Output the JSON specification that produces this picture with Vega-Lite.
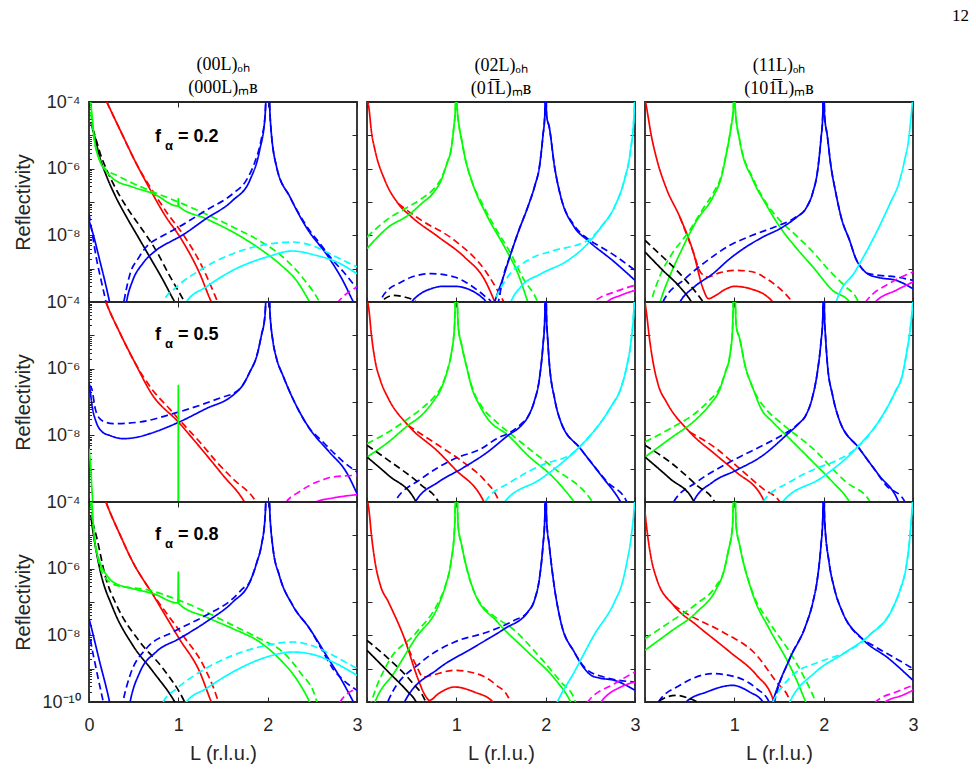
{
"$schema":"https://vega.github.io/schema/vega-lite/v6.json",
"padding":{"left":12,"top":7,"right":5,"bottom":5},
"title":{"text":"12","anchor":"end","fontSize":17,"font":"Liberation Serif","fontWeight":"normal","color":"#000000","offset":30,"dx":50},
"bounds":"flush",
"columns":3,
"spacing":{"row":0,"column":10},
"config":{
 "view":{"stroke":"#262626","strokeWidth":1.8},
 "font":"Liberation Sans",
 "axis":{"domain":false,"grid":false,"tickColor":"#262626","tickWidth":1,"labelColor":"#262626","labelFontSize":18,"labelFont":"Liberation Sans","titleColor":"#262626","titleFontSize":20,"titleFontWeight":"normal","titleFont":"Liberation Sans","labelOverlap":false,"labelFlush":false},
 "title":{"font":"Liberation Serif","fontWeight":"normal","color":"#000000"}
},
"datasets":{"d":[
{"p":11,"s":"ks","L":0.02,"v":-4.6},{"p":11,"s":"ks","L":0.06,"v":-5.0},{"p":11,"s":"ks","L":0.12,"v":-5.65},{"p":11,"s":"ks","L":0.2,"v":-6.25},{"p":11,"s":"ks","L":0.3,"v":-6.85},{"p":11,"s":"ks","L":0.42,"v":-7.45},{"p":11,"s":"ks","L":0.55,"v":-8.05},{"p":11,"s":"ks","L":0.68,"v":-8.65},{"p":11,"s":"ks","L":0.82,"v":-9.3},{"p":11,"s":"ks","L":0.96,"v":-10},{"p":11,"s":"ks","L":1.05,"v":-10.4},
{"p":11,"s":"kd","L":0.04,"v":-4.8},{"p":11,"s":"kd","L":0.06,"v":-4.95},{"p":11,"s":"kd","L":0.12,"v":-5.5},{"p":11,"s":"kd","L":0.2,"v":-6.05},{"p":11,"s":"kd","L":0.3,"v":-6.6},{"p":11,"s":"kd","L":0.42,"v":-7.15},{"p":11,"s":"kd","L":0.55,"v":-7.65},{"p":11,"s":"kd","L":0.75,"v":-8.45},{"p":11,"s":"kd","L":0.9,"v":-9.2},{"p":11,"s":"kd","L":1.07,"v":-10},{"p":11,"s":"kd","L":1.15,"v":-10.4},
{"p":11,"s":"rs","L":0.15,"v":-3.7},{"p":11,"s":"rs","L":0.2,"v":-4.0},{"p":11,"s":"rs","L":0.35,"v":-4.85},{"p":11,"s":"rs","L":0.53,"v":-5.85},{"p":11,"s":"rs","L":0.7,"v":-6.7},{"p":11,"s":"rs","L":0.85,"v":-7.4},{"p":11,"s":"rs","L":1.03,"v":-8.1},{"p":11,"s":"rs","L":1.24,"v":-9.15},{"p":11,"s":"rs","L":1.37,"v":-10},{"p":11,"s":"rs","L":1.45,"v":-10.4},
{"p":11,"s":"rd","L":0.15,"v":-3.7},{"p":11,"s":"rd","L":0.2,"v":-4.0},{"p":11,"s":"rd","L":0.35,"v":-4.85},{"p":11,"s":"rd","L":0.53,"v":-5.85},{"p":11,"s":"rd","L":0.72,"v":-6.7},{"p":11,"s":"rd","L":0.88,"v":-7.35},{"p":11,"s":"rd","L":1.06,"v":-8.0},{"p":11,"s":"rd","L":1.25,"v":-8.85},{"p":11,"s":"rd","L":1.44,"v":-10},{"p":11,"s":"rd","L":1.5,"v":-10.4},
{"p":11,"s":"gs","L":0.01,"v":-3.8},{"p":11,"s":"gs","L":0.03,"v":-4.3},{"p":11,"s":"gs","L":0.06,"v":-5.1},{"p":11,"s":"gs","L":0.12,"v":-5.75},{"p":11,"s":"gs","L":0.2,"v":-6.1},{"p":11,"s":"gs","L":0.27,"v":-6.3},{"p":11,"s":"gs","L":0.49,"v":-6.55},{"p":11,"s":"gs","L":0.72,"v":-6.75},{"p":11,"s":"gs","L":0.995,"v":-7.12},{"p":11,"s":"gs","L":1.0,"v":-6.9},{"p":11,"s":"gs","L":1.005,"v":-7.13},{"p":11,"s":"gs","L":1.31,"v":-7.5},{"p":11,"s":"gs","L":1.61,"v":-7.9},{"p":11,"s":"gs","L":1.91,"v":-8.4},{"p":11,"s":"gs","L":2.13,"v":-8.85},{"p":11,"s":"gs","L":2.32,"v":-9.35},{"p":11,"s":"gs","L":2.47,"v":-10},{"p":11,"s":"gs","L":2.55,"v":-10.4},
{"p":11,"s":"gd","L":0.02,"v":-4.3},{"p":11,"s":"gd","L":0.05,"v":-5.0},{"p":11,"s":"gd","L":0.1,"v":-5.6},{"p":11,"s":"gd","L":0.18,"v":-6.0},{"p":11,"s":"gd","L":0.31,"v":-6.2},{"p":11,"s":"gd","L":0.5,"v":-6.45},{"p":11,"s":"gd","L":0.72,"v":-6.7},{"p":11,"s":"gd","L":1.0,"v":-7.0},{"p":11,"s":"gd","L":1.3,"v":-7.35},{"p":11,"s":"gd","L":1.61,"v":-7.75},{"p":11,"s":"gd","L":1.9,"v":-8.15},{"p":11,"s":"gd","L":2.17,"v":-8.65},{"p":11,"s":"gd","L":2.4,"v":-9.3},{"p":11,"s":"gd","L":2.58,"v":-10},{"p":11,"s":"gd","L":2.65,"v":-10.4},
{"p":11,"s":"bs","L":0,"v":-7.55},{"p":11,"s":"bs","L":0.06,"v":-8.1},{"p":11,"s":"bs","L":0.12,"v":-8.75},{"p":11,"s":"bs","L":0.18,"v":-9.4},{"p":11,"s":"bs","L":0.23,"v":-10},{"p":11,"s":"bs","L":0.3,"v":-11},{"p":11,"s":"bs","L":0.37,"v":-11},{"p":11,"s":"bs","L":0.42,"v":-10},{"p":11,"s":"bs","L":0.49,"v":-9.35},{"p":11,"s":"bs","L":0.6,"v":-8.85},{"p":11,"s":"bs","L":0.75,"v":-8.45},{"p":11,"s":"bs","L":0.94,"v":-8.15},{"p":11,"s":"bs","L":1.01,"v":-8.05},{"p":11,"s":"bs","L":1.31,"v":-7.5},{"p":11,"s":"bs","L":1.61,"v":-6.95},{"p":11,"s":"bs","L":1.8,"v":-6.35},{"p":11,"s":"bs","L":1.91,"v":-5.45},{"p":11,"s":"bs","L":1.97,"v":-4.45},{"p":11,"s":"bs","L":2.0,"v":-3.0},{"p":11,"s":"bs","L":2.03,"v":-4.55},{"p":11,"s":"bs","L":2.1,"v":-5.95},{"p":11,"s":"bs","L":2.25,"v":-6.85},{"p":11,"s":"bs","L":2.43,"v":-7.75},{"p":11,"s":"bs","L":2.68,"v":-8.65},{"p":11,"s":"bs","L":2.84,"v":-9.35},{"p":11,"s":"bs","L":2.96,"v":-10},{"p":11,"s":"bs","L":3.0,"v":-10.2},
{"p":11,"s":"bd","L":0,"v":-7.35},{"p":11,"s":"bd","L":0.04,"v":-8.0},{"p":11,"s":"bd","L":0.08,"v":-8.65},{"p":11,"s":"bd","L":0.14,"v":-9.4},{"p":11,"s":"bd","L":0.19,"v":-10},{"p":11,"s":"bd","L":0.26,"v":-11},{"p":11,"s":"bd","L":0.33,"v":-11},{"p":11,"s":"bd","L":0.39,"v":-10},{"p":11,"s":"bd","L":0.46,"v":-9.15},{"p":11,"s":"bd","L":0.55,"v":-8.7},{"p":11,"s":"bd","L":0.64,"v":-8.35},{"p":11,"s":"bd","L":0.8,"v":-8.05},{"p":11,"s":"bd","L":0.94,"v":-7.85},{"p":11,"s":"bd","L":1.31,"v":-7.25},{"p":11,"s":"bd","L":1.61,"v":-6.75},{"p":11,"s":"bd","L":1.76,"v":-6.35},{"p":11,"s":"bd","L":1.85,"v":-5.85},{"p":11,"s":"bd","L":1.93,"v":-5.1},{"p":11,"s":"bd","L":1.97,"v":-4.45},{"p":11,"s":"bd","L":2.0,"v":-3.0},{"p":11,"s":"bd","L":2.03,"v":-4.55},{"p":11,"s":"bd","L":2.1,"v":-5.95},{"p":11,"s":"bd","L":2.25,"v":-6.85},{"p":11,"s":"bd","L":2.43,"v":-7.7},{"p":11,"s":"bd","L":2.6,"v":-8.3},{"p":11,"s":"bd","L":2.73,"v":-8.75},{"p":11,"s":"bd","L":2.85,"v":-9.1},{"p":11,"s":"bd","L":3.0,"v":-9.6},
{"p":11,"s":"cs","L":1.02,"v":-10.5},{"p":11,"s":"cs","L":1.09,"v":-10},{"p":11,"s":"cs","L":1.31,"v":-9.55},{"p":11,"s":"cs","L":1.61,"v":-9.05},{"p":11,"s":"cs","L":1.99,"v":-8.65},{"p":11,"s":"cs","L":2.28,"v":-8.47},{"p":11,"s":"cs","L":2.54,"v":-8.6},{"p":11,"s":"cs","L":2.73,"v":-8.75},{"p":11,"s":"cs","L":3.0,"v":-9.15},
{"p":11,"s":"cd","L":0.78,"v":-10.5},{"p":11,"s":"cd","L":0.83,"v":-10},{"p":11,"s":"cd","L":0.98,"v":-9.55},{"p":11,"s":"cd","L":1.24,"v":-9.05},{"p":11,"s":"cd","L":1.61,"v":-8.55},{"p":11,"s":"cd","L":1.99,"v":-8.27},{"p":11,"s":"cd","L":2.28,"v":-8.2},{"p":11,"s":"cd","L":2.54,"v":-8.35},{"p":11,"s":"cd","L":2.73,"v":-8.6},{"p":11,"s":"cd","L":3.0,"v":-8.95},
{"p":11,"s":"md","L":2.7,"v":-10.3},{"p":11,"s":"md","L":2.84,"v":-9.85},{"p":11,"s":"md","L":3.0,"v":-9.55},

{"p":12,"s":"rs","L":0.0,"v":-3.9},{"p":12,"s":"rs","L":0.02,"v":-4.15},{"p":12,"s":"rs","L":0.05,"v":-4.9},{"p":12,"s":"rs","L":0.09,"v":-5.45},{"p":12,"s":"rs","L":0.2,"v":-6.35},{"p":12,"s":"rs","L":0.35,"v":-7.05},{"p":12,"s":"rs","L":0.5,"v":-7.45},{"p":12,"s":"rs","L":0.8,"v":-8.05},{"p":12,"s":"rs","L":1.09,"v":-8.65},{"p":12,"s":"rs","L":1.32,"v":-9.35},{"p":12,"s":"rs","L":1.43,"v":-10},{"p":12,"s":"rs","L":1.5,"v":-10.5},
{"p":12,"s":"rd","L":0.35,"v":-7.05},{"p":12,"s":"rd","L":0.5,"v":-7.35},{"p":12,"s":"rd","L":0.61,"v":-7.55},{"p":12,"s":"rd","L":0.98,"v":-8.15},{"p":12,"s":"rd","L":1.32,"v":-9.05},{"p":12,"s":"rd","L":1.45,"v":-9.6},{"p":12,"s":"rd","L":1.55,"v":-10.1},{"p":12,"s":"rd","L":1.6,"v":-10.4},
{"p":12,"s":"gs","L":0,"v":-8.4},{"p":12,"s":"gs","L":0.24,"v":-7.75},{"p":12,"s":"gs","L":0.46,"v":-7.4},{"p":12,"s":"gs","L":0.61,"v":-7.05},{"p":12,"s":"gs","L":0.75,"v":-6.7},{"p":12,"s":"gs","L":0.83,"v":-6.35},{"p":12,"s":"gs","L":0.9,"v":-5.8},{"p":12,"s":"gs","L":0.94,"v":-5.45},{"p":12,"s":"gs","L":0.97,"v":-4.8},{"p":12,"s":"gs","L":0.99,"v":-4.15},{"p":12,"s":"gs","L":1.0,"v":-3.0},{"p":12,"s":"gs","L":1.01,"v":-4.2},{"p":12,"s":"gs","L":1.03,"v":-4.7},{"p":12,"s":"gs","L":1.06,"v":-5.15},{"p":12,"s":"gs","L":1.1,"v":-5.7},{"p":12,"s":"gs","L":1.17,"v":-6.35},{"p":12,"s":"gs","L":1.35,"v":-7.45},{"p":12,"s":"gs","L":1.54,"v":-8.35},{"p":12,"s":"gs","L":1.69,"v":-9.15},{"p":12,"s":"gs","L":1.8,"v":-10},{"p":12,"s":"gs","L":1.85,"v":-10.4},
{"p":12,"s":"gd","L":0,"v":-8.05},{"p":12,"s":"gd","L":0.24,"v":-7.5},{"p":12,"s":"gd","L":0.46,"v":-7.15},{"p":12,"s":"gd","L":0.61,"v":-6.9},{"p":12,"s":"gd","L":0.75,"v":-6.6},{"p":12,"s":"gd","L":0.83,"v":-6.3},{"p":12,"s":"gd","L":0.9,"v":-5.8},{"p":12,"s":"gd","L":0.94,"v":-5.45},{"p":12,"s":"gd","L":0.97,"v":-4.8},{"p":12,"s":"gd","L":0.99,"v":-4.15},{"p":12,"s":"gd","L":1.0,"v":-3.0},{"p":12,"s":"gd","L":1.01,"v":-4.2},{"p":12,"s":"gd","L":1.03,"v":-4.7},{"p":12,"s":"gd","L":1.06,"v":-5.15},{"p":12,"s":"gd","L":1.1,"v":-5.7},{"p":12,"s":"gd","L":1.17,"v":-6.35},{"p":12,"s":"gd","L":1.3,"v":-7.1},{"p":12,"s":"gd","L":1.43,"v":-7.75},{"p":12,"s":"gd","L":1.61,"v":-8.55},{"p":12,"s":"gd","L":1.75,"v":-9.3},{"p":12,"s":"gd","L":1.91,"v":-10},{"p":12,"s":"gd","L":1.95,"v":-10.3},
{"p":12,"s":"bs","L":0.4,"v":-10.5},{"p":12,"s":"bs","L":0.5,"v":-10},{"p":12,"s":"bs","L":0.6,"v":-9.75},{"p":12,"s":"bs","L":0.72,"v":-9.6},{"p":12,"s":"bs","L":0.85,"v":-9.53},{"p":12,"s":"bs","L":0.98,"v":-9.53},{"p":12,"s":"bs","L":1.1,"v":-9.58},{"p":12,"s":"bs","L":1.2,"v":-9.7},{"p":12,"s":"bs","L":1.28,"v":-9.85},{"p":12,"s":"bs","L":1.33,"v":-10},{"p":12,"s":"bs","L":1.38,"v":-10.5},{"p":12,"s":"bs","L":1.43,"v":-10},{"p":12,"s":"bs","L":1.52,"v":-9.3},{"p":12,"s":"bs","L":1.61,"v":-8.55},{"p":12,"s":"bs","L":1.7,"v":-7.85},{"p":12,"s":"bs","L":1.8,"v":-7.15},{"p":12,"s":"bs","L":1.88,"v":-6.5},{"p":12,"s":"bs","L":1.93,"v":-5.95},{"p":12,"s":"bs","L":1.97,"v":-5.0},{"p":12,"s":"bs","L":1.99,"v":-4.4},{"p":12,"s":"bs","L":2.0,"v":-3.0},{"p":12,"s":"bs","L":2.01,"v":-4.4},{"p":12,"s":"bs","L":2.04,"v":-4.75},{"p":12,"s":"bs","L":2.1,"v":-5.95},{"p":12,"s":"bs","L":2.17,"v":-6.85},{"p":12,"s":"bs","L":2.32,"v":-7.75},{"p":12,"s":"bs","L":2.47,"v":-8.15},{"p":12,"s":"bs","L":2.77,"v":-8.8},{"p":12,"s":"bs","L":3.0,"v":-9.35},
{"p":12,"s":"bd","L":0.1,"v":-10.5},{"p":12,"s":"bd","L":0.15,"v":-10},{"p":12,"s":"bd","L":0.25,"v":-9.6},{"p":12,"s":"bd","L":0.35,"v":-9.45},{"p":12,"s":"bd","L":0.5,"v":-9.25},{"p":12,"s":"bd","L":0.72,"v":-9.15},{"p":12,"s":"bd","L":0.98,"v":-9.25},{"p":12,"s":"bd","L":1.1,"v":-9.4},{"p":12,"s":"bd","L":1.24,"v":-9.65},{"p":12,"s":"bd","L":1.33,"v":-9.85},{"p":12,"s":"bd","L":1.39,"v":-10},{"p":12,"s":"bd","L":1.43,"v":-10.3},{"p":12,"s":"bd","L":1.47,"v":-10},{"p":12,"s":"bd","L":1.52,"v":-9.3},{"p":12,"s":"bd","L":1.61,"v":-8.55},{"p":12,"s":"bd","L":1.7,"v":-7.85},{"p":12,"s":"bd","L":1.8,"v":-7.15},{"p":12,"s":"bd","L":1.88,"v":-6.5},{"p":12,"s":"bd","L":1.93,"v":-5.95},{"p":12,"s":"bd","L":1.97,"v":-5.0},{"p":12,"s":"bd","L":1.99,"v":-4.4},{"p":12,"s":"bd","L":2.0,"v":-3.0},{"p":12,"s":"bd","L":2.01,"v":-4.4},{"p":12,"s":"bd","L":2.04,"v":-4.75},{"p":12,"s":"bd","L":2.1,"v":-5.95},{"p":12,"s":"bd","L":2.17,"v":-6.85},{"p":12,"s":"bd","L":2.32,"v":-7.7},{"p":12,"s":"bd","L":2.47,"v":-8.1},{"p":12,"s":"bd","L":2.62,"v":-8.35},{"p":12,"s":"bd","L":2.77,"v":-8.6},{"p":12,"s":"bd","L":3.0,"v":-9.05},
{"p":12,"s":"kd","L":0.12,"v":-10.2},{"p":12,"s":"kd","L":0.2,"v":-9.9},{"p":12,"s":"kd","L":0.3,"v":-9.8},{"p":12,"s":"kd","L":0.42,"v":-9.85},{"p":12,"s":"kd","L":0.55,"v":-10},{"p":12,"s":"kd","L":0.62,"v":-10.2},
{"p":12,"s":"cs","L":1.55,"v":-10.5},{"p":12,"s":"cs","L":1.61,"v":-10},{"p":12,"s":"cs","L":1.72,"v":-9.55},{"p":12,"s":"cs","L":1.95,"v":-9.15},{"p":12,"s":"cs","L":2.25,"v":-8.75},{"p":12,"s":"cs","L":2.47,"v":-8.25},{"p":12,"s":"cs","L":2.62,"v":-7.75},{"p":12,"s":"cs","L":2.77,"v":-7.15},{"p":12,"s":"cs","L":2.88,"v":-6.35},{"p":12,"s":"cs","L":2.95,"v":-5.45},{"p":12,"s":"cs","L":2.99,"v":-4.35},{"p":12,"s":"cs","L":3.0,"v":-3.5},
{"p":12,"s":"cd","L":1.38,"v":-10.5},{"p":12,"s":"cd","L":1.43,"v":-10},{"p":12,"s":"cd","L":1.55,"v":-9.35},{"p":12,"s":"cd","L":1.8,"v":-8.75},{"p":12,"s":"cd","L":2.1,"v":-8.45},{"p":12,"s":"cd","L":2.39,"v":-8.25},{"p":12,"s":"cd","L":2.5,"v":-8.1},{"p":12,"s":"cd","L":2.62,"v":-7.75},{"p":12,"s":"cd","L":2.77,"v":-7.15},{"p":12,"s":"cd","L":2.88,"v":-6.35},{"p":12,"s":"cd","L":2.95,"v":-5.45},{"p":12,"s":"cd","L":2.99,"v":-4.35},{"p":12,"s":"cd","L":3.0,"v":-3.5},
{"p":12,"s":"md","L":2.5,"v":-10.2},{"p":12,"s":"md","L":2.54,"v":-10},{"p":12,"s":"md","L":2.77,"v":-9.7},{"p":12,"s":"md","L":3.0,"v":-9.5},
{"p":12,"s":"ms","L":2.65,"v":-10.2},{"p":12,"s":"ms","L":2.69,"v":-10},{"p":12,"s":"ms","L":2.84,"v":-9.8},{"p":12,"s":"ms","L":3.0,"v":-9.65},

{"p":13,"s":"rs","L":0.0,"v":-3.9},{"p":13,"s":"rs","L":0.02,"v":-4.2},{"p":13,"s":"rs","L":0.07,"v":-5.0},{"p":13,"s":"rs","L":0.13,"v":-5.7},{"p":13,"s":"rs","L":0.24,"v":-6.6},{"p":13,"s":"rs","L":0.39,"v":-7.45},{"p":13,"s":"rs","L":0.54,"v":-8.5},{"p":13,"s":"rs","L":0.65,"v":-9.6},{"p":13,"s":"rs","L":0.71,"v":-9.9},{"p":13,"s":"rs","L":0.78,"v":-9.82},{"p":13,"s":"rs","L":0.9,"v":-9.62},{"p":13,"s":"rs","L":1.0,"v":-9.53},{"p":13,"s":"rs","L":1.2,"v":-9.62},{"p":13,"s":"rs","L":1.35,"v":-9.8},{"p":13,"s":"rs","L":1.43,"v":-10},{"p":13,"s":"rs","L":1.5,"v":-10.3},
{"p":13,"s":"rd","L":0.39,"v":-7.45},{"p":13,"s":"rd","L":0.54,"v":-8.5},{"p":13,"s":"rd","L":0.62,"v":-9.1},{"p":13,"s":"rd","L":0.7,"v":-9.25},{"p":13,"s":"rd","L":0.84,"v":-9.12},{"p":13,"s":"rd","L":1.02,"v":-9.05},{"p":13,"s":"rd","L":1.21,"v":-9.1},{"p":13,"s":"rd","L":1.36,"v":-9.3},{"p":13,"s":"rd","L":1.51,"v":-9.6},{"p":13,"s":"rd","L":1.62,"v":-9.9},{"p":13,"s":"rd","L":1.7,"v":-10.2},
{"p":13,"s":"gs","L":0.12,"v":-10.5},{"p":13,"s":"gs","L":0.17,"v":-10},{"p":13,"s":"gs","L":0.28,"v":-9.2},{"p":13,"s":"gs","L":0.39,"v":-8.55},{"p":13,"s":"gs","L":0.58,"v":-7.55},{"p":13,"s":"gs","L":0.76,"v":-6.85},{"p":13,"s":"gs","L":0.86,"v":-6.2},{"p":13,"s":"gs","L":0.91,"v":-5.55},{"p":13,"s":"gs","L":0.96,"v":-4.8},{"p":13,"s":"gs","L":0.99,"v":-4.15},{"p":13,"s":"gs","L":1.0,"v":-3.0},{"p":13,"s":"gs","L":1.01,"v":-4.2},{"p":13,"s":"gs","L":1.06,"v":-5.15},{"p":13,"s":"gs","L":1.21,"v":-6.35},{"p":13,"s":"gs","L":1.35,"v":-7.05},{"p":13,"s":"gs","L":1.51,"v":-7.75},{"p":13,"s":"gs","L":1.7,"v":-8.4},{"p":13,"s":"gs","L":1.88,"v":-8.95},{"p":13,"s":"gs","L":2.1,"v":-9.65},{"p":13,"s":"gs","L":2.29,"v":-10},{"p":13,"s":"gs","L":2.35,"v":-10.3},
{"p":13,"s":"gd","L":0.03,"v":-10.5},{"p":13,"s":"gd","L":0.07,"v":-10},{"p":13,"s":"gd","L":0.17,"v":-9.2},{"p":13,"s":"gd","L":0.28,"v":-8.65},{"p":13,"s":"gd","L":0.5,"v":-7.85},{"p":13,"s":"gd","L":0.65,"v":-7.2},{"p":13,"s":"gd","L":0.76,"v":-6.75},{"p":13,"s":"gd","L":0.86,"v":-6.15},{"p":13,"s":"gd","L":0.91,"v":-5.55},{"p":13,"s":"gd","L":0.96,"v":-4.8},{"p":13,"s":"gd","L":0.99,"v":-4.15},{"p":13,"s":"gd","L":1.0,"v":-3.0},{"p":13,"s":"gd","L":1.01,"v":-4.2},{"p":13,"s":"gd","L":1.06,"v":-5.15},{"p":13,"s":"gd","L":1.21,"v":-6.3},{"p":13,"s":"gd","L":1.35,"v":-7.0},{"p":13,"s":"gd","L":1.51,"v":-7.55},{"p":13,"s":"gd","L":1.69,"v":-8.0},{"p":13,"s":"gd","L":1.88,"v":-8.5},{"p":13,"s":"gd","L":2.06,"v":-9.05},{"p":13,"s":"gd","L":2.25,"v":-9.55},{"p":13,"s":"gd","L":2.36,"v":-9.85},{"p":13,"s":"gd","L":2.42,"v":-10.2},
{"p":13,"s":"bs","L":0.3,"v":-10.5},{"p":13,"s":"bs","L":0.39,"v":-10},{"p":13,"s":"bs","L":0.55,"v":-9.55},{"p":13,"s":"bs","L":0.76,"v":-9.15},{"p":13,"s":"bs","L":0.95,"v":-8.7},{"p":13,"s":"bs","L":1.13,"v":-8.35},{"p":13,"s":"bs","L":1.32,"v":-8.05},{"p":13,"s":"bs","L":1.51,"v":-7.8},{"p":13,"s":"bs","L":1.7,"v":-7.45},{"p":13,"s":"bs","L":1.8,"v":-7.2},{"p":13,"s":"bs","L":1.88,"v":-6.7},{"p":13,"s":"bs","L":1.93,"v":-6.1},{"p":13,"s":"bs","L":1.97,"v":-5.1},{"p":13,"s":"bs","L":1.99,"v":-4.4},{"p":13,"s":"bs","L":2.0,"v":-3.0},{"p":13,"s":"bs","L":2.01,"v":-4.4},{"p":13,"s":"bs","L":2.04,"v":-5.0},{"p":13,"s":"bs","L":2.08,"v":-5.9},{"p":13,"s":"bs","L":2.13,"v":-6.65},{"p":13,"s":"bs","L":2.2,"v":-7.5},{"p":13,"s":"bs","L":2.29,"v":-8.15},{"p":13,"s":"bs","L":2.36,"v":-8.7},{"p":13,"s":"bs","L":2.43,"v":-9.0},{"p":13,"s":"bs","L":2.5,"v":-9.17},{"p":13,"s":"bs","L":2.62,"v":-9.27},{"p":13,"s":"bs","L":2.81,"v":-9.35},{"p":13,"s":"bs","L":3.0,"v":-9.6},
{"p":13,"s":"bd","L":0.15,"v":-10.3},{"p":13,"s":"bd","L":0.2,"v":-10},{"p":13,"s":"bd","L":0.45,"v":-9.3},{"p":13,"s":"bd","L":0.7,"v":-8.75},{"p":13,"s":"bd","L":0.95,"v":-8.3},{"p":13,"s":"bd","L":1.2,"v":-8.0},{"p":13,"s":"bd","L":1.45,"v":-7.75},{"p":13,"s":"bd","L":1.69,"v":-7.45},{"p":13,"s":"bd","L":1.8,"v":-7.2},{"p":13,"s":"bd","L":1.88,"v":-6.7},{"p":13,"s":"bd","L":1.93,"v":-6.1},{"p":13,"s":"bd","L":1.97,"v":-5.1},{"p":13,"s":"bd","L":1.99,"v":-4.4},{"p":13,"s":"bd","L":2.0,"v":-3.0},{"p":13,"s":"bd","L":2.01,"v":-4.4},{"p":13,"s":"bd","L":2.04,"v":-5.0},{"p":13,"s":"bd","L":2.08,"v":-5.9},{"p":13,"s":"bd","L":2.13,"v":-6.65},{"p":13,"s":"bd","L":2.2,"v":-7.5},{"p":13,"s":"bd","L":2.29,"v":-8.15},{"p":13,"s":"bd","L":2.36,"v":-8.7},{"p":13,"s":"bd","L":2.43,"v":-9.0},{"p":13,"s":"bd","L":2.5,"v":-9.15},{"p":13,"s":"bd","L":2.62,"v":-9.2},{"p":13,"s":"bd","L":2.81,"v":-9.25},{"p":13,"s":"bd","L":3.0,"v":-9.35},
{"p":13,"s":"ks","L":0.0,"v":-8.5},{"p":13,"s":"ks","L":0.2,"v":-9.05},{"p":13,"s":"ks","L":0.39,"v":-9.55},{"p":13,"s":"ks","L":0.52,"v":-10},{"p":13,"s":"ks","L":0.58,"v":-10.3},
{"p":13,"s":"kd","L":0.0,"v":-8.15},{"p":13,"s":"kd","L":0.2,"v":-8.65},{"p":13,"s":"kd","L":0.39,"v":-9.15},{"p":13,"s":"kd","L":0.65,"v":-10},{"p":13,"s":"kd","L":0.7,"v":-10.2},
{"p":13,"s":"cs","L":2.1,"v":-10.5},{"p":13,"s":"cs","L":2.14,"v":-10},{"p":13,"s":"cs","L":2.36,"v":-9.05},{"p":13,"s":"cs","L":2.62,"v":-7.75},{"p":13,"s":"cs","L":2.75,"v":-7.0},{"p":13,"s":"cs","L":2.84,"v":-6.45},{"p":13,"s":"cs","L":2.91,"v":-5.7},{"p":13,"s":"cs","L":2.95,"v":-5.15},{"p":13,"s":"cs","L":2.98,"v":-4.4},{"p":13,"s":"cs","L":3.0,"v":-3.8},
{"p":13,"s":"ms","L":2.5,"v":-10.3},{"p":13,"s":"ms","L":2.58,"v":-10},{"p":13,"s":"ms","L":2.81,"v":-9.65},{"p":13,"s":"ms","L":3.0,"v":-9.4},
{"p":13,"s":"md","L":2.4,"v":-10.3},{"p":13,"s":"md","L":2.47,"v":-10},{"p":13,"s":"md","L":2.73,"v":-9.45},{"p":13,"s":"md","L":3.0,"v":-9.1},

{"p":21,"s":"rs","L":0.15,"v":-3.7},{"p":21,"s":"rs","L":0.19,"v":-4.0},{"p":21,"s":"rs","L":0.35,"v":-4.95},{"p":21,"s":"rs","L":0.51,"v":-5.8},{"p":21,"s":"rs","L":0.7,"v":-6.75},{"p":21,"s":"rs","L":1.0,"v":-7.6},{"p":21,"s":"rs","L":1.24,"v":-8.35},{"p":21,"s":"rs","L":1.5,"v":-9.2},{"p":21,"s":"rs","L":1.74,"v":-10},{"p":21,"s":"rs","L":1.8,"v":-10.3},
{"p":21,"s":"rd","L":0.15,"v":-3.7},{"p":21,"s":"rd","L":0.19,"v":-4.0},{"p":21,"s":"rd","L":0.35,"v":-4.95},{"p":21,"s":"rd","L":0.51,"v":-5.8},{"p":21,"s":"rd","L":0.7,"v":-6.6},{"p":21,"s":"rd","L":0.9,"v":-7.2},{"p":21,"s":"rd","L":1.05,"v":-7.65},{"p":21,"s":"rd","L":1.24,"v":-8.2},{"p":21,"s":"rd","L":1.43,"v":-8.8},{"p":21,"s":"rd","L":1.61,"v":-9.3},{"p":21,"s":"rd","L":1.87,"v":-10},{"p":21,"s":"rd","L":1.93,"v":-10.3},
{"p":21,"s":"bs","L":0.0,"v":-6.4},{"p":21,"s":"bs","L":0.01,"v":-6.6},{"p":21,"s":"bs","L":0.04,"v":-7.2},{"p":21,"s":"bs","L":0.08,"v":-7.6},{"p":21,"s":"bs","L":0.15,"v":-7.9},{"p":21,"s":"bs","L":0.23,"v":-8.0},{"p":21,"s":"bs","L":0.38,"v":-8.1},{"p":21,"s":"bs","L":0.55,"v":-8.05},{"p":21,"s":"bs","L":0.68,"v":-7.95},{"p":21,"s":"bs","L":1.01,"v":-7.6},{"p":21,"s":"bs","L":1.31,"v":-7.2},{"p":21,"s":"bs","L":1.61,"v":-6.8},{"p":21,"s":"bs","L":1.72,"v":-6.5},{"p":21,"s":"bs","L":1.8,"v":-6.1},{"p":21,"s":"bs","L":1.88,"v":-5.6},{"p":21,"s":"bs","L":1.93,"v":-5.0},{"p":21,"s":"bs","L":1.97,"v":-4.4},{"p":21,"s":"bs","L":2.0,"v":-3.0},{"p":21,"s":"bs","L":2.03,"v":-4.5},{"p":21,"s":"bs","L":2.06,"v":-5.2},{"p":21,"s":"bs","L":2.1,"v":-5.7},{"p":21,"s":"bs","L":2.17,"v":-6.2},{"p":21,"s":"bs","L":2.3,"v":-7.0},{"p":21,"s":"bs","L":2.47,"v":-7.8},{"p":21,"s":"bs","L":2.69,"v":-8.5},{"p":21,"s":"bs","L":2.88,"v":-9.1},{"p":21,"s":"bs","L":3.0,"v":-9.75},
{"p":21,"s":"bd","L":0.0,"v":-6.5},{"p":21,"s":"bd","L":0.03,"v":-6.6},{"p":21,"s":"bd","L":0.07,"v":-7.2},{"p":21,"s":"bd","L":0.12,"v":-7.5},{"p":21,"s":"bd","L":0.2,"v":-7.62},{"p":21,"s":"bd","L":0.27,"v":-7.65},{"p":21,"s":"bd","L":0.57,"v":-7.6},{"p":21,"s":"bd","L":0.94,"v":-7.35},{"p":21,"s":"bd","L":1.24,"v":-7.1},{"p":21,"s":"bd","L":1.5,"v":-6.85},{"p":21,"s":"bd","L":1.61,"v":-6.75},{"p":21,"s":"bd","L":1.72,"v":-6.5},{"p":21,"s":"bd","L":1.8,"v":-6.1},{"p":21,"s":"bd","L":1.88,"v":-5.6},{"p":21,"s":"bd","L":1.93,"v":-5.0},{"p":21,"s":"bd","L":1.97,"v":-4.4},{"p":21,"s":"bd","L":2.0,"v":-3.0},{"p":21,"s":"bd","L":2.03,"v":-4.5},{"p":21,"s":"bd","L":2.06,"v":-5.2},{"p":21,"s":"bd","L":2.1,"v":-5.7},{"p":21,"s":"bd","L":2.17,"v":-6.2},{"p":21,"s":"bd","L":2.3,"v":-7.0},{"p":21,"s":"bd","L":2.47,"v":-7.8},{"p":21,"s":"bd","L":2.6,"v":-8.15},{"p":21,"s":"bd","L":2.73,"v":-8.5},{"p":21,"s":"bd","L":2.85,"v":-8.8},{"p":21,"s":"bd","L":3.0,"v":-9.1},
{"p":21,"s":"gs","L":0.998,"v":-11},{"p":21,"s":"gs","L":1.0,"v":-6.5},{"p":21,"s":"gs","L":1.002,"v":-11},
{"p":21,"s":"gx","L":0.0,"v":-8.4},{"p":21,"s":"gx","L":0.02,"v":-9.0},{"p":21,"s":"gx","L":0.03,"v":-9.5},{"p":21,"s":"gx","L":0.05,"v":-10.3},
{"p":21,"s":"md","L":2.15,"v":-10.3},{"p":21,"s":"md","L":2.21,"v":-10},{"p":21,"s":"md","L":2.35,"v":-9.7},{"p":21,"s":"md","L":2.47,"v":-9.5},{"p":21,"s":"md","L":2.6,"v":-9.35},{"p":21,"s":"md","L":2.73,"v":-9.25},{"p":21,"s":"md","L":3.0,"v":-9.2},
{"p":21,"s":"ms","L":2.45,"v":-10.2},{"p":21,"s":"ms","L":2.54,"v":-10},{"p":21,"s":"ms","L":2.73,"v":-9.88},{"p":21,"s":"ms","L":3.0,"v":-9.78},

{"p":22,"s":"rs","L":0.0,"v":-3.9},{"p":22,"s":"rs","L":0.02,"v":-4.2},{"p":22,"s":"rs","L":0.05,"v":-5.0},{"p":22,"s":"rs","L":0.09,"v":-5.75},{"p":22,"s":"rs","L":0.15,"v":-6.35},{"p":22,"s":"rs","L":0.24,"v":-6.9},{"p":22,"s":"rs","L":0.46,"v":-7.7},{"p":22,"s":"rs","L":0.8,"v":-8.5},{"p":22,"s":"rs","L":0.98,"v":-9.0},{"p":22,"s":"rs","L":1.3,"v":-9.95},{"p":22,"s":"rs","L":1.36,"v":-10.3},
{"p":22,"s":"rd","L":0.46,"v":-7.7},{"p":22,"s":"rd","L":0.6,"v":-7.95},{"p":22,"s":"rd","L":0.8,"v":-8.3},{"p":22,"s":"rd","L":1.1,"v":-8.85},{"p":22,"s":"rd","L":1.3,"v":-9.3},{"p":22,"s":"rd","L":1.48,"v":-10},{"p":22,"s":"rd","L":1.52,"v":-10.3},
{"p":22,"s":"gs","L":0,"v":-8.65},{"p":22,"s":"gs","L":0.24,"v":-8.2},{"p":22,"s":"gs","L":0.46,"v":-7.7},{"p":22,"s":"gs","L":0.61,"v":-7.4},{"p":22,"s":"gs","L":0.75,"v":-6.95},{"p":22,"s":"gs","L":0.83,"v":-6.6},{"p":22,"s":"gs","L":0.9,"v":-6.05},{"p":22,"s":"gs","L":0.94,"v":-5.6},{"p":22,"s":"gs","L":0.98,"v":-4.7},{"p":22,"s":"gs","L":1.0,"v":-3.0},{"p":22,"s":"gs","L":1.02,"v":-4.7},{"p":22,"s":"gs","L":1.06,"v":-5.3},{"p":22,"s":"gs","L":1.12,"v":-6.0},{"p":22,"s":"gs","L":1.17,"v":-6.55},{"p":22,"s":"gs","L":1.25,"v":-7.05},{"p":22,"s":"gs","L":1.35,"v":-7.5},{"p":22,"s":"gs","L":1.58,"v":-8.0},{"p":22,"s":"gs","L":1.8,"v":-8.6},{"p":22,"s":"gs","L":2.1,"v":-9.3},{"p":22,"s":"gs","L":2.32,"v":-10},{"p":22,"s":"gs","L":2.4,"v":-10.3},
{"p":22,"s":"gd","L":0,"v":-8.25},{"p":22,"s":"gd","L":0.24,"v":-7.9},{"p":22,"s":"gd","L":0.46,"v":-7.5},{"p":22,"s":"gd","L":0.61,"v":-7.2},{"p":22,"s":"gd","L":0.75,"v":-6.85},{"p":22,"s":"gd","L":0.83,"v":-6.55},{"p":22,"s":"gd","L":0.9,"v":-6.05},{"p":22,"s":"gd","L":0.94,"v":-5.6},{"p":22,"s":"gd","L":0.98,"v":-4.7},{"p":22,"s":"gd","L":1.0,"v":-3.0},{"p":22,"s":"gd","L":1.02,"v":-4.7},{"p":22,"s":"gd","L":1.06,"v":-5.3},{"p":22,"s":"gd","L":1.12,"v":-6.0},{"p":22,"s":"gd","L":1.17,"v":-6.5},{"p":22,"s":"gd","L":1.3,"v":-7.2},{"p":22,"s":"gd","L":1.43,"v":-7.55},{"p":22,"s":"gd","L":1.72,"v":-8.2},{"p":22,"s":"gd","L":2.1,"v":-9.0},{"p":22,"s":"gd","L":2.47,"v":-9.8},{"p":22,"s":"gd","L":2.55,"v":-10.1},
{"p":22,"s":"bs","L":0.48,"v":-10.5},{"p":22,"s":"bs","L":0.54,"v":-10},{"p":22,"s":"bs","L":0.8,"v":-9.4},{"p":22,"s":"bs","L":1.06,"v":-9.0},{"p":22,"s":"bs","L":1.35,"v":-8.5},{"p":22,"s":"bs","L":1.58,"v":-8.0},{"p":22,"s":"bs","L":1.73,"v":-7.7},{"p":22,"s":"bs","L":1.8,"v":-7.45},{"p":22,"s":"bs","L":1.87,"v":-7.0},{"p":22,"s":"bs","L":1.93,"v":-6.3},{"p":22,"s":"bs","L":1.97,"v":-5.3},{"p":22,"s":"bs","L":1.99,"v":-4.5},{"p":22,"s":"bs","L":2.0,"v":-3.0},{"p":22,"s":"bs","L":2.01,"v":-4.5},{"p":22,"s":"bs","L":2.02,"v":-5.0},{"p":22,"s":"bs","L":2.04,"v":-5.8},{"p":22,"s":"bs","L":2.1,"v":-6.9},{"p":22,"s":"bs","L":2.17,"v":-7.6},{"p":22,"s":"bs","L":2.39,"v":-8.4},{"p":22,"s":"bs","L":2.62,"v":-9.2},{"p":22,"s":"bs","L":2.84,"v":-10},{"p":22,"s":"bs","L":2.9,"v":-10.3},
{"p":22,"s":"bd","L":0.26,"v":-10.5},{"p":22,"s":"bd","L":0.31,"v":-10},{"p":22,"s":"bd","L":0.61,"v":-9.3},{"p":22,"s":"bd","L":0.98,"v":-8.7},{"p":22,"s":"bd","L":1.28,"v":-8.4},{"p":22,"s":"bd","L":1.45,"v":-8.1},{"p":22,"s":"bd","L":1.61,"v":-7.9},{"p":22,"s":"bd","L":1.73,"v":-7.65},{"p":22,"s":"bd","L":1.8,"v":-7.45},{"p":22,"s":"bd","L":1.87,"v":-7.0},{"p":22,"s":"bd","L":1.93,"v":-6.3},{"p":22,"s":"bd","L":1.97,"v":-5.3},{"p":22,"s":"bd","L":1.99,"v":-4.5},{"p":22,"s":"bd","L":2.0,"v":-3.0},{"p":22,"s":"bd","L":2.01,"v":-4.5},{"p":22,"s":"bd","L":2.02,"v":-5.0},{"p":22,"s":"bd","L":2.04,"v":-5.8},{"p":22,"s":"bd","L":2.1,"v":-6.9},{"p":22,"s":"bd","L":2.17,"v":-7.6},{"p":22,"s":"bd","L":2.39,"v":-8.4},{"p":22,"s":"bd","L":2.55,"v":-8.95},{"p":22,"s":"bd","L":2.69,"v":-9.4},{"p":22,"s":"bd","L":2.9,"v":-9.95},{"p":22,"s":"bd","L":2.95,"v":-10.3},
{"p":22,"s":"ks","L":0,"v":-8.65},{"p":22,"s":"ks","L":0.24,"v":-9.2},{"p":22,"s":"ks","L":0.54,"v":-9.95},{"p":22,"s":"ks","L":0.6,"v":-10.3},
{"p":22,"s":"kd","L":0,"v":-8.3},{"p":22,"s":"kd","L":0.24,"v":-8.75},{"p":22,"s":"kd","L":0.61,"v":-9.5},{"p":22,"s":"kd","L":0.8,"v":-10},{"p":22,"s":"kd","L":0.85,"v":-10.3},
{"p":22,"s":"cs","L":1.48,"v":-10.3},{"p":22,"s":"cs","L":1.54,"v":-10},{"p":22,"s":"cs","L":1.95,"v":-9.3},{"p":22,"s":"cs","L":2.32,"v":-8.5},{"p":22,"s":"cs","L":2.5,"v":-8.0},{"p":22,"s":"cs","L":2.62,"v":-7.6},{"p":22,"s":"cs","L":2.74,"v":-7.1},{"p":22,"s":"cs","L":2.84,"v":-6.6},{"p":22,"s":"cs","L":2.91,"v":-5.9},{"p":22,"s":"cs","L":2.95,"v":-5.3},{"p":22,"s":"cs","L":2.99,"v":-4.1},{"p":22,"s":"cs","L":3.0,"v":-3.5},
{"p":22,"s":"cd","L":1.27,"v":-10.3},{"p":22,"s":"cd","L":1.32,"v":-10},{"p":22,"s":"cd","L":1.61,"v":-9.4},{"p":22,"s":"cd","L":1.95,"v":-8.9},{"p":22,"s":"cd","L":2.32,"v":-8.5},{"p":22,"s":"cd","L":2.5,"v":-8.0},{"p":22,"s":"cd","L":2.62,"v":-7.6},{"p":22,"s":"cd","L":2.74,"v":-7.1},{"p":22,"s":"cd","L":2.84,"v":-6.6},{"p":22,"s":"cd","L":2.91,"v":-5.9},{"p":22,"s":"cd","L":2.95,"v":-5.3},{"p":22,"s":"cd","L":2.99,"v":-4.1},{"p":22,"s":"cd","L":3.0,"v":-3.5},

{"p":23,"s":"rs","L":0.0,"v":-4.0},{"p":23,"s":"rs","L":0.02,"v":-4.4},{"p":23,"s":"rs","L":0.05,"v":-5.1},{"p":23,"s":"rs","L":0.09,"v":-5.8},{"p":23,"s":"rs","L":0.15,"v":-6.5},{"p":23,"s":"rs","L":0.24,"v":-7.0},{"p":23,"s":"rs","L":0.5,"v":-7.9},{"p":23,"s":"rs","L":0.8,"v":-8.6},{"p":23,"s":"rs","L":1.02,"v":-9.1},{"p":23,"s":"rs","L":1.32,"v":-9.9},{"p":23,"s":"rs","L":1.36,"v":-10.2},
{"p":23,"s":"rd","L":0.5,"v":-7.9},{"p":23,"s":"rd","L":0.8,"v":-8.4},{"p":23,"s":"rd","L":1.06,"v":-9.0},{"p":23,"s":"rd","L":1.32,"v":-9.6},{"p":23,"s":"rd","L":1.51,"v":-10},{"p":23,"s":"rd","L":1.56,"v":-10.3},
{"p":23,"s":"gs","L":0,"v":-8.65},{"p":23,"s":"gs","L":0.28,"v":-8.1},{"p":23,"s":"gs","L":0.58,"v":-7.5},{"p":23,"s":"gs","L":0.72,"v":-7.1},{"p":23,"s":"gs","L":0.84,"v":-6.6},{"p":23,"s":"gs","L":0.9,"v":-6.1},{"p":23,"s":"gs","L":0.95,"v":-5.6},{"p":23,"s":"gs","L":0.98,"v":-4.8},{"p":23,"s":"gs","L":1.0,"v":-3.0},{"p":23,"s":"gs","L":1.02,"v":-4.7},{"p":23,"s":"gs","L":1.06,"v":-5.1},{"p":23,"s":"gs","L":1.12,"v":-5.9},{"p":23,"s":"gs","L":1.21,"v":-6.6},{"p":23,"s":"gs","L":1.3,"v":-7.2},{"p":23,"s":"gs","L":1.43,"v":-7.6},{"p":23,"s":"gs","L":1.6,"v":-8.05},{"p":23,"s":"gs","L":1.88,"v":-8.8},{"p":23,"s":"gs","L":2.1,"v":-9.4},{"p":23,"s":"gs","L":2.29,"v":-10},{"p":23,"s":"gs","L":2.35,"v":-10.3},
{"p":23,"s":"gd","L":0,"v":-8.2},{"p":23,"s":"gd","L":0.28,"v":-7.8},{"p":23,"s":"gd","L":0.58,"v":-7.3},{"p":23,"s":"gd","L":0.72,"v":-6.95},{"p":23,"s":"gd","L":0.84,"v":-6.55},{"p":23,"s":"gd","L":0.9,"v":-6.1},{"p":23,"s":"gd","L":0.95,"v":-5.6},{"p":23,"s":"gd","L":0.98,"v":-4.8},{"p":23,"s":"gd","L":1.0,"v":-3.0},{"p":23,"s":"gd","L":1.02,"v":-4.7},{"p":23,"s":"gd","L":1.06,"v":-5.1},{"p":23,"s":"gd","L":1.12,"v":-5.9},{"p":23,"s":"gd","L":1.21,"v":-6.6},{"p":23,"s":"gd","L":1.35,"v":-7.2},{"p":23,"s":"gd","L":1.51,"v":-7.6},{"p":23,"s":"gd","L":1.88,"v":-8.4},{"p":23,"s":"gd","L":2.25,"v":-9.4},{"p":23,"s":"gd","L":2.51,"v":-9.95},{"p":23,"s":"gd","L":2.55,"v":-10.3},
{"p":23,"s":"bs","L":0.5,"v":-10.3},{"p":23,"s":"bs","L":0.54,"v":-10},{"p":23,"s":"bs","L":0.76,"v":-9.4},{"p":23,"s":"bs","L":1.02,"v":-9.05},{"p":23,"s":"bs","L":1.32,"v":-8.6},{"p":23,"s":"bs","L":1.58,"v":-8.0},{"p":23,"s":"bs","L":1.72,"v":-7.65},{"p":23,"s":"bs","L":1.8,"v":-7.4},{"p":23,"s":"bs","L":1.87,"v":-6.9},{"p":23,"s":"bs","L":1.93,"v":-6.1},{"p":23,"s":"bs","L":1.97,"v":-5.2},{"p":23,"s":"bs","L":1.99,"v":-4.5},{"p":23,"s":"bs","L":2.0,"v":-3.0},{"p":23,"s":"bs","L":2.01,"v":-4.5},{"p":23,"s":"bs","L":2.02,"v":-5.0},{"p":23,"s":"bs","L":2.04,"v":-5.8},{"p":23,"s":"bs","L":2.1,"v":-6.8},{"p":23,"s":"bs","L":2.17,"v":-7.5},{"p":23,"s":"bs","L":2.4,"v":-8.4},{"p":23,"s":"bs","L":2.62,"v":-9.2},{"p":23,"s":"bs","L":2.83,"v":-9.95},{"p":23,"s":"bs","L":2.88,"v":-10.3},
{"p":23,"s":"bd","L":0.28,"v":-10.3},{"p":23,"s":"bd","L":0.32,"v":-10},{"p":23,"s":"bd","L":0.58,"v":-9.4},{"p":23,"s":"bd","L":0.95,"v":-8.8},{"p":23,"s":"bd","L":1.32,"v":-8.3},{"p":23,"s":"bd","L":1.5,"v":-8.05},{"p":23,"s":"bd","L":1.65,"v":-7.8},{"p":23,"s":"bd","L":1.72,"v":-7.65},{"p":23,"s":"bd","L":1.8,"v":-7.4},{"p":23,"s":"bd","L":1.87,"v":-6.9},{"p":23,"s":"bd","L":1.93,"v":-6.1},{"p":23,"s":"bd","L":1.97,"v":-5.2},{"p":23,"s":"bd","L":1.99,"v":-4.5},{"p":23,"s":"bd","L":2.0,"v":-3.0},{"p":23,"s":"bd","L":2.01,"v":-4.5},{"p":23,"s":"bd","L":2.02,"v":-5.0},{"p":23,"s":"bd","L":2.04,"v":-5.8},{"p":23,"s":"bd","L":2.1,"v":-6.8},{"p":23,"s":"bd","L":2.17,"v":-7.5},{"p":23,"s":"bd","L":2.4,"v":-8.4},{"p":23,"s":"bd","L":2.55,"v":-8.95},{"p":23,"s":"bd","L":2.7,"v":-9.5},{"p":23,"s":"bd","L":2.9,"v":-9.95},{"p":23,"s":"bd","L":2.95,"v":-10.3},
{"p":23,"s":"ks","L":0,"v":-8.65},{"p":23,"s":"ks","L":0.28,"v":-9.3},{"p":23,"s":"ks","L":0.54,"v":-9.95},{"p":23,"s":"ks","L":0.6,"v":-10.3},
{"p":23,"s":"kd","L":0,"v":-8.3},{"p":23,"s":"kd","L":0.28,"v":-8.8},{"p":23,"s":"kd","L":0.58,"v":-9.5},{"p":23,"s":"kd","L":0.78,"v":-10},{"p":23,"s":"kd","L":0.83,"v":-10.3},
{"p":23,"s":"cs","L":1.5,"v":-10.3},{"p":23,"s":"cs","L":1.54,"v":-10},{"p":23,"s":"cs","L":1.99,"v":-9.25},{"p":23,"s":"cs","L":2.36,"v":-8.4},{"p":23,"s":"cs","L":2.66,"v":-7.4},{"p":23,"s":"cs","L":2.8,"v":-6.7},{"p":23,"s":"cs","L":2.88,"v":-6.2},{"p":23,"s":"cs","L":2.93,"v":-5.5},{"p":23,"s":"cs","L":2.97,"v":-4.8},{"p":23,"s":"cs","L":3.0,"v":-4.0},
{"p":23,"s":"cd","L":1.28,"v":-10.3},{"p":23,"s":"cd","L":1.32,"v":-10},{"p":23,"s":"cd","L":1.62,"v":-9.4},{"p":23,"s":"cd","L":1.91,"v":-9.0},{"p":23,"s":"cd","L":2.15,"v":-8.75},{"p":23,"s":"cd","L":2.36,"v":-8.4},{"p":23,"s":"cd","L":2.66,"v":-7.4},{"p":23,"s":"cd","L":2.8,"v":-6.7},{"p":23,"s":"cd","L":2.88,"v":-6.2},{"p":23,"s":"cd","L":2.93,"v":-5.5},{"p":23,"s":"cd","L":2.97,"v":-4.8},{"p":23,"s":"cd","L":3.0,"v":-4.0},

{"p":31,"s":"ks","L":0.02,"v":-4.4},{"p":31,"s":"ks","L":0.04,"v":-4.8},{"p":31,"s":"ks","L":0.12,"v":-6.0},{"p":31,"s":"ks","L":0.27,"v":-7.2},{"p":31,"s":"ks","L":0.49,"v":-8.3},{"p":31,"s":"ks","L":0.72,"v":-9.1},{"p":31,"s":"ks","L":0.96,"v":-10},{"p":31,"s":"ks","L":1.02,"v":-10.3},
{"p":31,"s":"kd","L":0.04,"v":-4.6},{"p":31,"s":"kd","L":0.08,"v":-5.0},{"p":31,"s":"kd","L":0.19,"v":-6.3},{"p":31,"s":"kd","L":0.31,"v":-7.1},{"p":31,"s":"kd","L":0.57,"v":-8.2},{"p":31,"s":"kd","L":0.83,"v":-9.0},{"p":31,"s":"kd","L":1.07,"v":-10},{"p":31,"s":"kd","L":1.12,"v":-10.3},
{"p":31,"s":"rs","L":0.15,"v":-3.7},{"p":31,"s":"rs","L":0.19,"v":-4.0},{"p":31,"s":"rs","L":0.35,"v":-5.0},{"p":31,"s":"rs","L":0.49,"v":-5.8},{"p":31,"s":"rs","L":0.72,"v":-6.8},{"p":31,"s":"rs","L":1.01,"v":-8.1},{"p":31,"s":"rs","L":1.24,"v":-9.1},{"p":31,"s":"rs","L":1.37,"v":-10},{"p":31,"s":"rs","L":1.42,"v":-10.3},
{"p":31,"s":"rd","L":0.15,"v":-3.7},{"p":31,"s":"rd","L":0.19,"v":-4.0},{"p":31,"s":"rd","L":0.35,"v":-5.0},{"p":31,"s":"rd","L":0.49,"v":-5.8},{"p":31,"s":"rd","L":0.6,"v":-6.3},{"p":31,"s":"rd","L":0.75,"v":-6.9},{"p":31,"s":"rd","L":1.05,"v":-8.0},{"p":31,"s":"rd","L":1.28,"v":-8.9},{"p":31,"s":"rd","L":1.43,"v":-9.85},{"p":31,"s":"rd","L":1.47,"v":-10.2},
{"p":31,"s":"gs","L":0.01,"v":-3.8},{"p":31,"s":"gs","L":0.03,"v":-4.0},{"p":31,"s":"gs","L":0.06,"v":-5.1},{"p":31,"s":"gs","L":0.12,"v":-5.8},{"p":31,"s":"gs","L":0.2,"v":-6.2},{"p":31,"s":"gs","L":0.27,"v":-6.4},{"p":31,"s":"gs","L":0.49,"v":-6.6},{"p":31,"s":"gs","L":0.72,"v":-6.75},{"p":31,"s":"gs","L":0.995,"v":-7.03},{"p":31,"s":"gs","L":1.0,"v":-6.1},{"p":31,"s":"gs","L":1.005,"v":-7.05},{"p":31,"s":"gs","L":1.31,"v":-7.45},{"p":31,"s":"gs","L":1.61,"v":-7.8},{"p":31,"s":"gs","L":1.91,"v":-8.2},{"p":31,"s":"gs","L":2.13,"v":-8.7},{"p":31,"s":"gs","L":2.32,"v":-9.3},{"p":31,"s":"gs","L":2.47,"v":-10},{"p":31,"s":"gs","L":2.52,"v":-10.3},
{"p":31,"s":"gd","L":0.02,"v":-4.0},{"p":31,"s":"gd","L":0.03,"v":-4.3},{"p":31,"s":"gd","L":0.06,"v":-5.0},{"p":31,"s":"gd","L":0.16,"v":-6.2},{"p":31,"s":"gd","L":0.31,"v":-6.5},{"p":31,"s":"gd","L":0.68,"v":-6.65},{"p":31,"s":"gd","L":1.01,"v":-6.95},{"p":31,"s":"gd","L":1.31,"v":-7.3},{"p":31,"s":"gd","L":1.61,"v":-7.7},{"p":31,"s":"gd","L":1.91,"v":-8.1},{"p":31,"s":"gd","L":2.17,"v":-8.5},{"p":31,"s":"gd","L":2.36,"v":-9.1},{"p":31,"s":"gd","L":2.54,"v":-9.9},{"p":31,"s":"gd","L":2.58,"v":-10.3},
{"p":31,"s":"bs","L":0.0,"v":-7.5},{"p":31,"s":"bs","L":0.01,"v":-7.6},{"p":31,"s":"bs","L":0.12,"v":-8.8},{"p":31,"s":"bs","L":0.23,"v":-10},{"p":31,"s":"bs","L":0.3,"v":-11},{"p":31,"s":"bs","L":0.4,"v":-11},{"p":31,"s":"bs","L":0.46,"v":-10},{"p":31,"s":"bs","L":0.57,"v":-9.1},{"p":31,"s":"bs","L":0.75,"v":-8.5},{"p":31,"s":"bs","L":1.01,"v":-8.1},{"p":31,"s":"bs","L":1.31,"v":-7.6},{"p":31,"s":"bs","L":1.61,"v":-7.0},{"p":31,"s":"bs","L":1.8,"v":-6.4},{"p":31,"s":"bs","L":1.88,"v":-5.8},{"p":31,"s":"bs","L":1.93,"v":-5.3},{"p":31,"s":"bs","L":1.97,"v":-4.5},{"p":31,"s":"bs","L":2.0,"v":-3.0},{"p":31,"s":"bs","L":2.03,"v":-4.6},{"p":31,"s":"bs","L":2.06,"v":-5.4},{"p":31,"s":"bs","L":2.13,"v":-6.2},{"p":31,"s":"bs","L":2.28,"v":-7.1},{"p":31,"s":"bs","L":2.47,"v":-7.8},{"p":31,"s":"bs","L":2.68,"v":-8.7},{"p":31,"s":"bs","L":2.84,"v":-9.4},{"p":31,"s":"bs","L":2.96,"v":-10},{"p":31,"s":"bs","L":3.0,"v":-10.2},
{"p":31,"s":"bd","L":0.0,"v":-7.8},{"p":31,"s":"bd","L":0.01,"v":-8.0},{"p":31,"s":"bd","L":0.08,"v":-9.0},{"p":31,"s":"bd","L":0.16,"v":-10},{"p":31,"s":"bd","L":0.24,"v":-11},{"p":31,"s":"bd","L":0.32,"v":-11},{"p":31,"s":"bd","L":0.38,"v":-10},{"p":31,"s":"bd","L":0.46,"v":-9.2},{"p":31,"s":"bd","L":0.64,"v":-8.4},{"p":31,"s":"bd","L":0.94,"v":-7.9},{"p":31,"s":"bd","L":1.31,"v":-7.4},{"p":31,"s":"bd","L":1.61,"v":-6.9},{"p":31,"s":"bd","L":1.72,"v":-6.6},{"p":31,"s":"bd","L":1.8,"v":-6.4},{"p":31,"s":"bd","L":1.88,"v":-5.8},{"p":31,"s":"bd","L":1.93,"v":-5.3},{"p":31,"s":"bd","L":1.97,"v":-4.5},{"p":31,"s":"bd","L":2.0,"v":-3.0},{"p":31,"s":"bd","L":2.03,"v":-4.6},{"p":31,"s":"bd","L":2.06,"v":-5.4},{"p":31,"s":"bd","L":2.13,"v":-6.2},{"p":31,"s":"bd","L":2.28,"v":-7.1},{"p":31,"s":"bd","L":2.47,"v":-7.8},{"p":31,"s":"bd","L":2.6,"v":-8.4},{"p":31,"s":"bd","L":2.73,"v":-9.0},{"p":31,"s":"bd","L":2.85,"v":-9.35},{"p":31,"s":"bd","L":3.0,"v":-9.65},
{"p":31,"s":"cs","L":1.04,"v":-10.3},{"p":31,"s":"cs","L":1.09,"v":-10},{"p":31,"s":"cs","L":1.31,"v":-9.6},{"p":31,"s":"cs","L":1.61,"v":-9.1},{"p":31,"s":"cs","L":1.99,"v":-8.65},{"p":31,"s":"cs","L":2.28,"v":-8.5},{"p":31,"s":"cs","L":2.54,"v":-8.6},{"p":31,"s":"cs","L":2.73,"v":-8.8},{"p":31,"s":"cs","L":3.0,"v":-9.2},
{"p":31,"s":"cd","L":0.78,"v":-10.3},{"p":31,"s":"cd","L":0.83,"v":-10},{"p":31,"s":"cd","L":0.98,"v":-9.6},{"p":31,"s":"cd","L":1.24,"v":-9.1},{"p":31,"s":"cd","L":1.61,"v":-8.6},{"p":31,"s":"cd","L":1.99,"v":-8.3},{"p":31,"s":"cd","L":2.28,"v":-8.2},{"p":31,"s":"cd","L":2.54,"v":-8.35},{"p":31,"s":"cd","L":2.73,"v":-8.6},{"p":31,"s":"cd","L":3.0,"v":-9.0},
{"p":31,"s":"md","L":2.75,"v":-10.3},{"p":31,"s":"md","L":2.81,"v":-10},{"p":31,"s":"md","L":3.0,"v":-9.6},

{"p":32,"s":"rs","L":0.0,"v":-3.9},{"p":32,"s":"rs","L":0.02,"v":-4.2},{"p":32,"s":"rs","L":0.05,"v":-5.0},{"p":32,"s":"rs","L":0.09,"v":-5.8},{"p":32,"s":"rs","L":0.15,"v":-6.5},{"p":32,"s":"rs","L":0.24,"v":-7.0},{"p":32,"s":"rs","L":0.42,"v":-8.1},{"p":32,"s":"rs","L":0.57,"v":-9.3},{"p":32,"s":"rs","L":0.65,"v":-9.8},{"p":32,"s":"rs","L":0.7,"v":-9.95},{"p":32,"s":"rs","L":0.8,"v":-9.75},{"p":32,"s":"rs","L":0.98,"v":-9.55},{"p":32,"s":"rs","L":1.2,"v":-9.7},{"p":32,"s":"rs","L":1.41,"v":-10},{"p":32,"s":"rs","L":1.46,"v":-10.3},
{"p":32,"s":"rd","L":0.42,"v":-8.1},{"p":32,"s":"rd","L":0.55,"v":-8.9},{"p":32,"s":"rd","L":0.63,"v":-9.25},{"p":32,"s":"rd","L":0.72,"v":-9.2},{"p":32,"s":"rd","L":0.98,"v":-9.05},{"p":32,"s":"rd","L":1.28,"v":-9.2},{"p":32,"s":"rd","L":1.45,"v":-9.5},{"p":32,"s":"rd","L":1.58,"v":-9.85},{"p":32,"s":"rd","L":1.62,"v":-10.2},
{"p":32,"s":"gs","L":0.05,"v":-10.3},{"p":32,"s":"gs","L":0.09,"v":-10},{"p":32,"s":"gs","L":0.31,"v":-9.1},{"p":32,"s":"gs","L":0.54,"v":-8.1},{"p":32,"s":"gs","L":0.8,"v":-7.1},{"p":32,"s":"gs","L":0.88,"v":-6.5},{"p":32,"s":"gs","L":0.94,"v":-5.8},{"p":32,"s":"gs","L":0.98,"v":-4.8},{"p":32,"s":"gs","L":1.0,"v":-3.0},{"p":32,"s":"gs","L":1.02,"v":-4.7},{"p":32,"s":"gs","L":1.06,"v":-5.3},{"p":32,"s":"gs","L":1.2,"v":-6.7},{"p":32,"s":"gs","L":1.46,"v":-7.6},{"p":32,"s":"gs","L":1.8,"v":-8.5},{"p":32,"s":"gs","L":2.1,"v":-9.3},{"p":32,"s":"gs","L":2.28,"v":-10},{"p":32,"s":"gs","L":2.33,"v":-10.3},
{"p":32,"s":"gd","L":0.0,"v":-10.5},{"p":32,"s":"gd","L":0.05,"v":-10},{"p":32,"s":"gd","L":0.24,"v":-8.8},{"p":32,"s":"gd","L":0.54,"v":-7.95},{"p":32,"s":"gd","L":0.8,"v":-7.0},{"p":32,"s":"gd","L":0.88,"v":-6.5},{"p":32,"s":"gd","L":0.94,"v":-5.8},{"p":32,"s":"gd","L":0.98,"v":-4.8},{"p":32,"s":"gd","L":1.0,"v":-3.0},{"p":32,"s":"gd","L":1.02,"v":-4.7},{"p":32,"s":"gd","L":1.06,"v":-5.3},{"p":32,"s":"gd","L":1.2,"v":-6.7},{"p":32,"s":"gd","L":1.46,"v":-7.5},{"p":32,"s":"gd","L":1.58,"v":-7.7},{"p":32,"s":"gd","L":1.95,"v":-8.7},{"p":32,"s":"gd","L":2.17,"v":-9.4},{"p":32,"s":"gd","L":2.32,"v":-9.9},{"p":32,"s":"gd","L":2.36,"v":-10.2},
{"p":32,"s":"bs","L":0.38,"v":-10.3},{"p":32,"s":"bs","L":0.42,"v":-10},{"p":32,"s":"bs","L":0.8,"v":-9.0},{"p":32,"s":"bs","L":1.17,"v":-8.4},{"p":32,"s":"bs","L":1.54,"v":-7.8},{"p":32,"s":"bs","L":1.8,"v":-7.3},{"p":32,"s":"bs","L":1.88,"v":-6.9},{"p":32,"s":"bs","L":1.93,"v":-6.3},{"p":32,"s":"bs","L":1.97,"v":-5.3},{"p":32,"s":"bs","L":1.99,"v":-4.5},{"p":32,"s":"bs","L":2.0,"v":-3.0},{"p":32,"s":"bs","L":2.01,"v":-4.5},{"p":32,"s":"bs","L":2.04,"v":-5.3},{"p":32,"s":"bs","L":2.1,"v":-6.6},{"p":32,"s":"bs","L":2.17,"v":-7.6},{"p":32,"s":"bs","L":2.32,"v":-8.5},{"p":32,"s":"bs","L":2.45,"v":-9.05},{"p":32,"s":"bs","L":2.51,"v":-9.2},{"p":32,"s":"bs","L":2.6,"v":-9.28},{"p":32,"s":"bs","L":2.77,"v":-9.35},{"p":32,"s":"bs","L":3.0,"v":-9.65},
{"p":32,"s":"bd","L":0.2,"v":-10.3},{"p":32,"s":"bd","L":0.24,"v":-9.95},{"p":32,"s":"bd","L":0.61,"v":-8.8},{"p":32,"s":"bd","L":0.98,"v":-8.2},{"p":32,"s":"bd","L":1.35,"v":-7.9},{"p":32,"s":"bd","L":1.65,"v":-7.55},{"p":32,"s":"bd","L":1.8,"v":-7.3},{"p":32,"s":"bd","L":1.88,"v":-6.9},{"p":32,"s":"bd","L":1.93,"v":-6.3},{"p":32,"s":"bd","L":1.97,"v":-5.3},{"p":32,"s":"bd","L":1.99,"v":-4.5},{"p":32,"s":"bd","L":2.0,"v":-3.0},{"p":32,"s":"bd","L":2.01,"v":-4.5},{"p":32,"s":"bd","L":2.04,"v":-5.3},{"p":32,"s":"bd","L":2.1,"v":-6.6},{"p":32,"s":"bd","L":2.17,"v":-7.6},{"p":32,"s":"bd","L":2.32,"v":-8.5},{"p":32,"s":"bd","L":2.45,"v":-9.0},{"p":32,"s":"bd","L":2.65,"v":-9.25},{"p":32,"s":"bd","L":3.0,"v":-9.4},
{"p":32,"s":"ks","L":0,"v":-8.45},{"p":32,"s":"ks","L":0.24,"v":-9.1},{"p":32,"s":"ks","L":0.46,"v":-9.7},{"p":32,"s":"ks","L":0.54,"v":-9.95},{"p":32,"s":"ks","L":0.6,"v":-10.3},
{"p":32,"s":"kd","L":0,"v":-8.15},{"p":32,"s":"kd","L":0.24,"v":-8.7},{"p":32,"s":"kd","L":0.5,"v":-9.4},{"p":32,"s":"kd","L":0.65,"v":-9.95},{"p":32,"s":"kd","L":0.7,"v":-10.3},
{"p":32,"s":"cs","L":2.08,"v":-10.3},{"p":32,"s":"cs","L":2.13,"v":-10},{"p":32,"s":"cs","L":2.32,"v":-9.1},{"p":32,"s":"cs","L":2.54,"v":-8.0},{"p":32,"s":"cs","L":2.77,"v":-7.0},{"p":32,"s":"cs","L":2.86,"v":-6.4},{"p":32,"s":"cs","L":2.91,"v":-5.8},{"p":32,"s":"cs","L":2.96,"v":-5.0},{"p":32,"s":"cs","L":2.99,"v":-4.2},{"p":32,"s":"cs","L":3.0,"v":-3.8},
{"p":32,"s":"ms","L":2.55,"v":-10.3},{"p":32,"s":"ms","L":2.62,"v":-10},{"p":32,"s":"ms","L":2.84,"v":-9.55},{"p":32,"s":"ms","L":3.0,"v":-9.4},
{"p":32,"s":"md","L":2.4,"v":-10.3},{"p":32,"s":"md","L":2.47,"v":-10},{"p":32,"s":"md","L":2.77,"v":-9.45},{"p":32,"s":"md","L":3.0,"v":-9.1},

{"p":33,"s":"rs","L":0.0,"v":-4.3},{"p":33,"s":"rs","L":0.02,"v":-4.8},{"p":33,"s":"rs","L":0.07,"v":-5.7},{"p":33,"s":"rs","L":0.13,"v":-6.3},{"p":33,"s":"rs","L":0.32,"v":-7.1},{"p":33,"s":"rs","L":0.58,"v":-7.7},{"p":33,"s":"rs","L":0.95,"v":-8.5},{"p":33,"s":"rs","L":1.25,"v":-9.2},{"p":33,"s":"rs","L":1.43,"v":-9.9},{"p":33,"s":"rs","L":1.47,"v":-10.3},
{"p":33,"s":"rd","L":0.32,"v":-7.1},{"p":33,"s":"rd","L":0.5,"v":-7.4},{"p":33,"s":"rd","L":0.87,"v":-7.9},{"p":33,"s":"rd","L":1.25,"v":-8.6},{"p":33,"s":"rd","L":1.47,"v":-9.4},{"p":33,"s":"rd","L":1.62,"v":-9.95},{"p":33,"s":"rd","L":1.66,"v":-10.3},
{"p":33,"s":"gs","L":0,"v":-8.45},{"p":33,"s":"gs","L":0.28,"v":-7.9},{"p":33,"s":"gs","L":0.58,"v":-7.3},{"p":33,"s":"gs","L":0.8,"v":-6.6},{"p":33,"s":"gs","L":0.88,"v":-6.1},{"p":33,"s":"gs","L":0.93,"v":-5.5},{"p":33,"s":"gs","L":0.98,"v":-4.7},{"p":33,"s":"gs","L":1.0,"v":-3.0},{"p":33,"s":"gs","L":1.02,"v":-4.7},{"p":33,"s":"gs","L":1.06,"v":-5.3},{"p":33,"s":"gs","L":1.21,"v":-6.8},{"p":33,"s":"gs","L":1.39,"v":-7.8},{"p":33,"s":"gs","L":1.58,"v":-8.7},{"p":33,"s":"gs","L":1.69,"v":-9.3},{"p":33,"s":"gs","L":1.8,"v":-10},{"p":33,"s":"gs","L":1.85,"v":-10.3},
{"p":33,"s":"gd","L":0,"v":-8.1},{"p":33,"s":"gd","L":0.28,"v":-7.6},{"p":33,"s":"gd","L":0.58,"v":-7.05},{"p":33,"s":"gd","L":0.8,"v":-6.5},{"p":33,"s":"gd","L":0.88,"v":-6.1},{"p":33,"s":"gd","L":0.93,"v":-5.5},{"p":33,"s":"gd","L":0.98,"v":-4.7},{"p":33,"s":"gd","L":1.0,"v":-3.0},{"p":33,"s":"gd","L":1.02,"v":-4.7},{"p":33,"s":"gd","L":1.06,"v":-5.3},{"p":33,"s":"gd","L":1.21,"v":-6.75},{"p":33,"s":"gd","L":1.39,"v":-7.6},{"p":33,"s":"gd","L":1.62,"v":-8.5},{"p":33,"s":"gd","L":1.77,"v":-9.2},{"p":33,"s":"gd","L":1.91,"v":-10},{"p":33,"s":"gd","L":1.95,"v":-10.3},
{"p":33,"s":"bs","L":0.4,"v":-10.3},{"p":33,"s":"bs","L":0.46,"v":-10},{"p":33,"s":"bs","L":0.69,"v":-9.7},{"p":33,"s":"bs","L":0.98,"v":-9.5},{"p":33,"s":"bs","L":1.17,"v":-9.7},{"p":33,"s":"bs","L":1.32,"v":-10},{"p":33,"s":"bs","L":1.38,"v":-10.5},{"p":33,"s":"bs","L":1.43,"v":-10},{"p":33,"s":"bs","L":1.62,"v":-8.7},{"p":33,"s":"bs","L":1.8,"v":-7.7},{"p":33,"s":"bs","L":1.88,"v":-7.0},{"p":33,"s":"bs","L":1.93,"v":-6.3},{"p":33,"s":"bs","L":1.97,"v":-5.3},{"p":33,"s":"bs","L":1.99,"v":-4.5},{"p":33,"s":"bs","L":2.0,"v":-3.0},{"p":33,"s":"bs","L":2.01,"v":-4.5},{"p":33,"s":"bs","L":2.06,"v":-5.8},{"p":33,"s":"bs","L":2.12,"v":-6.6},{"p":33,"s":"bs","L":2.21,"v":-7.3},{"p":33,"s":"bs","L":2.43,"v":-8.1},{"p":33,"s":"bs","L":2.73,"v":-8.7},{"p":33,"s":"bs","L":3.0,"v":-9.35},
{"p":33,"s":"bd","L":0.1,"v":-10.3},{"p":33,"s":"bd","L":0.15,"v":-10},{"p":33,"s":"bd","L":0.39,"v":-9.5},{"p":33,"s":"bd","L":0.76,"v":-9.15},{"p":33,"s":"bd","L":1.02,"v":-9.25},{"p":33,"s":"bd","L":1.25,"v":-9.6},{"p":33,"s":"bd","L":1.39,"v":-10},{"p":33,"s":"bd","L":1.42,"v":-10.4},{"p":33,"s":"bd","L":1.45,"v":-10},{"p":33,"s":"bd","L":1.62,"v":-8.7},{"p":33,"s":"bd","L":1.8,"v":-7.7},{"p":33,"s":"bd","L":1.88,"v":-7.0},{"p":33,"s":"bd","L":1.93,"v":-6.3},{"p":33,"s":"bd","L":1.97,"v":-5.3},{"p":33,"s":"bd","L":1.99,"v":-4.5},{"p":33,"s":"bd","L":2.0,"v":-3.0},{"p":33,"s":"bd","L":2.01,"v":-4.5},{"p":33,"s":"bd","L":2.06,"v":-5.8},{"p":33,"s":"bd","L":2.12,"v":-6.6},{"p":33,"s":"bd","L":2.21,"v":-7.3},{"p":33,"s":"bd","L":2.43,"v":-8.1},{"p":33,"s":"bd","L":2.55,"v":-8.3},{"p":33,"s":"bd","L":2.81,"v":-8.7},{"p":33,"s":"bd","L":3.0,"v":-9.0},
{"p":33,"s":"kd","L":0.12,"v":-10.3},{"p":33,"s":"kd","L":0.17,"v":-9.95},{"p":33,"s":"kd","L":0.35,"v":-9.8},{"p":33,"s":"kd","L":0.5,"v":-9.9},{"p":33,"s":"kd","L":0.58,"v":-10},{"p":33,"s":"kd","L":0.62,"v":-10.3},
{"p":33,"s":"cs","L":1.57,"v":-10.3},{"p":33,"s":"cs","L":1.62,"v":-10},{"p":33,"s":"cs","L":1.91,"v":-9.1},{"p":33,"s":"cs","L":2.25,"v":-8.5},{"p":33,"s":"cs","L":2.51,"v":-8.0},{"p":33,"s":"cs","L":2.77,"v":-7.2},{"p":33,"s":"cs","L":2.86,"v":-6.6},{"p":33,"s":"cs","L":2.92,"v":-6.0},{"p":33,"s":"cs","L":2.96,"v":-5.2},{"p":33,"s":"cs","L":2.99,"v":-4.2},{"p":33,"s":"cs","L":3.0,"v":-3.8},
{"p":33,"s":"cd","L":1.38,"v":-10.3},{"p":33,"s":"cd","L":1.43,"v":-10},{"p":33,"s":"cd","L":1.65,"v":-9.2},{"p":33,"s":"cd","L":1.95,"v":-8.8},{"p":33,"s":"cd","L":2.25,"v":-8.5},{"p":33,"s":"cd","L":2.43,"v":-8.2},{"p":33,"s":"cd","L":2.51,"v":-8.0},{"p":33,"s":"cd","L":2.77,"v":-7.2},{"p":33,"s":"cd","L":2.86,"v":-6.6},{"p":33,"s":"cd","L":2.92,"v":-6.0},{"p":33,"s":"cd","L":2.96,"v":-5.2},{"p":33,"s":"cd","L":2.99,"v":-4.2},{"p":33,"s":"cd","L":3.0,"v":-3.8},
{"p":33,"s":"ms","L":2.62,"v":-10.3},{"p":33,"s":"ms","L":2.69,"v":-10},{"p":33,"s":"ms","L":2.88,"v":-9.8},{"p":33,"s":"ms","L":3.0,"v":-9.65},
{"p":33,"s":"md","L":2.5,"v":-10.3},{"p":33,"s":"md","L":2.58,"v":-10},{"p":33,"s":"md","L":2.81,"v":-9.7},{"p":33,"s":"md","L":3.0,"v":-9.5}
]},
"concat":[
{"width":268,"height":200,"title":{"text":["(00L)\u2092\u2095","(000L)\u2098\u0299"],"fontSize":18,"lineHeight":23,"offset":4,"dy":8},
 "data":{"name":"d"},"transform":[{"filter":"datum.p==11"}],
 "layer":[
  {"mark":{"type":"line","clip":true,"interpolate":"monotone","strokeWidth":1.7},
   "encoding":{
    "x":{"field":"L","type":"quantitative","scale":{"domain":[0,3],"nice":false,"zero":false},"axis":{"orient":"bottom","values":[0,1,2,3],"labels":false,"title":null,"tickSize":-5}},
    "y":{"field":"v","type":"quantitative","scale":{"domain":[-10,-4],"nice":false,"zero":false},"axis":{"orient":"left","values":[-10,-9.699,-9.523,-9.398,-9.301,-9.222,-9.155,-9.097,-9.046,-9,-8.699,-8.523,-8.398,-8.301,-8.222,-8.155,-8.097,-8.046,-8,-7.699,-7.523,-7.398,-7.301,-7.222,-7.155,-7.097,-7.046,-7,-6.699,-6.523,-6.398,-6.301,-6.222,-6.155,-6.097,-6.046,-6,-5.699,-5.523,-5.398,-5.301,-5.222,-5.155,-5.097,-5.046,-5,-4.699,-4.523,-4.398,-4.301,-4.222,-4.155,-4.097,-4.046,-4],"labelExpr":"datum.value==-4?'10\u207B\u2074':datum.value==-6?'10\u207B\u2076':datum.value==-8?'10\u207B\u2078':''","tickSize":{"condition":{"test":"datum.value % 1 == 0","value":-5},"value":-2.5},"labelPadding":14,"minExtent":46,"maxExtent":46,"title":"Reflectivity","titlePadding":10}},
    "color":{"field":"s","type":"nominal","scale":{"domain":["ks","kd","rs","rd","gs","gd","gx","bs","bd","cs","cd","ms","md"],"range":["#000000","#000000","#ff0000","#ff0000","#00ff00","#00ff00","#00ff00","#0000ff","#0000ff","#00ffff","#00ffff","#ff00ff","#ff00ff"]},"legend":null},
    "strokeDash":{"field":"s","type":"nominal","scale":{"domain":["ks","kd","rs","rd","gs","gd","gx","bs","bd","cs","cd","ms","md"],"range":[[1,0],[7,4],[1,0],[7,4],[1,0],[7,4],[1,0],[1,0],[7,4],[1,0],[7,4],[1,0],[7,4]]},"legend":null}}},
  {"mark":{"type":"line","opacity":0,"clip":true},"encoding":{
    "x":{"field":"L","type":"quantitative","scale":{"domain":[0,3],"nice":false,"zero":false},"axis":{"orient":"top","values":[0,1,2,3],"labels":false,"title":null,"tickSize":-5}},
    "y":{"field":"v","type":"quantitative","scale":{"domain":[-10,-4],"nice":false,"zero":false},"axis":{"orient":"right","values":[-10,-9,-8,-7,-6,-5,-4],"labels":false,"title":null,"tickSize":-5}},
    "detail":{"field":"s"}}},
  {"data":{"values":[{}]},"mark":{"type":"text","text":"f","align":"left","baseline":"alphabetic","fontSize":18,"fontWeight":"bold","color":"#000000"},"encoding":{"x":{"datum":0.739,"type":"quantitative","scale":{"domain":[0,3],"nice":false,"zero":false},"axis":null},"y":{"datum":-5.19,"type":"quantitative","scale":{"domain":[-10,-4],"nice":false,"zero":false},"axis":null}}},
  {"data":{"values":[{}]},"mark":{"type":"text","text":"\u03b1","align":"left","baseline":"alphabetic","fontSize":13,"fontWeight":"bold","color":"#000000"},"encoding":{"x":{"datum":0.851,"type":"quantitative","scale":{"domain":[0,3],"nice":false,"zero":false},"axis":null},"y":{"datum":-5.44,"type":"quantitative","scale":{"domain":[-10,-4],"nice":false,"zero":false},"axis":null}}},
  {"data":{"values":[{}]},"mark":{"type":"text","text":"= 0.2","align":"left","baseline":"alphabetic","fontSize":18,"fontWeight":"bold","color":"#000000"},"encoding":{"x":{"datum":0.996,"type":"quantitative","scale":{"domain":[0,3],"nice":false,"zero":false},"axis":null},"y":{"datum":-5.19,"type":"quantitative","scale":{"domain":[-10,-4],"nice":false,"zero":false},"axis":null}}}
 ],
 "resolve":{"axis":{"x":"independent","y":"independent"}}},
{"width":268,"height":200,"title":{"text":["(02L)\u2092\u2095","(01\u0305L)\u2098\u0299"],"fontSize":18,"lineHeight":23,"offset":4},
 "data":{"name":"d"},"transform":[{"filter":"datum.p==12"}],
 "layer":[
  {"mark":{"type":"line","clip":true,"interpolate":"monotone","strokeWidth":1.7},
   "encoding":{
    "x":{"field":"L","type":"quantitative","scale":{"domain":[0,3],"nice":false,"zero":false},"axis":{"orient":"bottom","values":[0,1,2,3],"labels":false,"title":null,"tickSize":-5}},
    "y":{"field":"v","type":"quantitative","scale":{"domain":[-10,-4],"nice":false,"zero":false},"axis":{"orient":"left","values":[-10,-9,-8,-7,-6,-5,-4],"labels":false,"title":null,"tickSize":-5}},
    "color":{"field":"s","type":"nominal","scale":{"domain":["ks","kd","rs","rd","gs","gd","gx","bs","bd","cs","cd","ms","md"],"range":["#000000","#000000","#ff0000","#ff0000","#00ff00","#00ff00","#00ff00","#0000ff","#0000ff","#00ffff","#00ffff","#ff00ff","#ff00ff"]},"legend":null},
    "strokeDash":{"field":"s","type":"nominal","scale":{"domain":["ks","kd","rs","rd","gs","gd","gx","bs","bd","cs","cd","ms","md"],"range":[[1,0],[7,4],[1,0],[7,4],[1,0],[7,4],[1,0],[1,0],[7,4],[1,0],[7,4],[1,0],[7,4]]},"legend":null}}},
  {"mark":{"type":"line","opacity":0,"clip":true},"encoding":{
    "x":{"field":"L","type":"quantitative","scale":{"domain":[0,3],"nice":false,"zero":false},"axis":{"orient":"top","values":[0,1,2,3],"labels":false,"title":null,"tickSize":-5}},
    "y":{"field":"v","type":"quantitative","scale":{"domain":[-10,-4],"nice":false,"zero":false},"axis":{"orient":"right","values":[-10,-9,-8,-7,-6,-5,-4],"labels":false,"title":null,"tickSize":-5}},
    "detail":{"field":"s"}}}
 ],
 "resolve":{"axis":{"x":"independent","y":"independent"}}},
{"width":268,"height":200,"title":{"text":["(11L)\u2092\u2095","(101\u0305L)\u2098\u0299"],"fontSize":18,"lineHeight":23,"offset":4},
 "data":{"name":"d"},"transform":[{"filter":"datum.p==13"}],
 "layer":[
  {"mark":{"type":"line","clip":true,"interpolate":"monotone","strokeWidth":1.7},
   "encoding":{
    "x":{"field":"L","type":"quantitative","scale":{"domain":[0,3],"nice":false,"zero":false},"axis":{"orient":"bottom","values":[0,1,2,3],"labels":false,"title":null,"tickSize":-5}},
    "y":{"field":"v","type":"quantitative","scale":{"domain":[-10,-4],"nice":false,"zero":false},"axis":{"orient":"left","values":[-10,-9,-8,-7,-6,-5,-4],"labels":false,"title":null,"tickSize":-5}},
    "color":{"field":"s","type":"nominal","scale":{"domain":["ks","kd","rs","rd","gs","gd","gx","bs","bd","cs","cd","ms","md"],"range":["#000000","#000000","#ff0000","#ff0000","#00ff00","#00ff00","#00ff00","#0000ff","#0000ff","#00ffff","#00ffff","#ff00ff","#ff00ff"]},"legend":null},
    "strokeDash":{"field":"s","type":"nominal","scale":{"domain":["ks","kd","rs","rd","gs","gd","gx","bs","bd","cs","cd","ms","md"],"range":[[1,0],[7,4],[1,0],[7,4],[1,0],[7,4],[1,0],[1,0],[7,4],[1,0],[7,4],[1,0],[7,4]]},"legend":null}}},
  {"mark":{"type":"line","opacity":0,"clip":true},"encoding":{
    "x":{"field":"L","type":"quantitative","scale":{"domain":[0,3],"nice":false,"zero":false},"axis":{"orient":"top","values":[0,1,2,3],"labels":false,"title":null,"tickSize":-5}},
    "y":{"field":"v","type":"quantitative","scale":{"domain":[-10,-4],"nice":false,"zero":false},"axis":{"orient":"right","values":[-10,-9,-8,-7,-6,-5,-4],"labels":false,"title":null,"tickSize":-5}},
    "detail":{"field":"s"}}}
 ],
 "resolve":{"axis":{"x":"independent","y":"independent"}}},
{"width":268,"height":200,
 "data":{"name":"d"},"transform":[{"filter":"datum.p==21"}],
 "layer":[
  {"mark":{"type":"line","clip":true,"interpolate":"monotone","strokeWidth":1.7},
   "encoding":{
    "x":{"field":"L","type":"quantitative","scale":{"domain":[0,3],"nice":false,"zero":false},"axis":{"orient":"bottom","values":[0,1,2,3],"labels":false,"title":null,"tickSize":-5}},
    "y":{"field":"v","type":"quantitative","scale":{"domain":[-10,-4],"nice":false,"zero":false},"axis":{"orient":"left","values":[-10,-9.699,-9.523,-9.398,-9.301,-9.222,-9.155,-9.097,-9.046,-9,-8.699,-8.523,-8.398,-8.301,-8.222,-8.155,-8.097,-8.046,-8,-7.699,-7.523,-7.398,-7.301,-7.222,-7.155,-7.097,-7.046,-7,-6.699,-6.523,-6.398,-6.301,-6.222,-6.155,-6.097,-6.046,-6,-5.699,-5.523,-5.398,-5.301,-5.222,-5.155,-5.097,-5.046,-5,-4.699,-4.523,-4.398,-4.301,-4.222,-4.155,-4.097,-4.046,-4],"labelExpr":"datum.value==-4?'10\u207B\u2074':datum.value==-6?'10\u207B\u2076':datum.value==-8?'10\u207B\u2078':''","tickSize":{"condition":{"test":"datum.value % 1 == 0","value":-5},"value":-2.5},"labelPadding":14,"minExtent":46,"maxExtent":46,"title":"Reflectivity","titlePadding":10}},
    "color":{"field":"s","type":"nominal","scale":{"domain":["ks","kd","rs","rd","gs","gd","gx","bs","bd","cs","cd","ms","md"],"range":["#000000","#000000","#ff0000","#ff0000","#00ff00","#00ff00","#00ff00","#0000ff","#0000ff","#00ffff","#00ffff","#ff00ff","#ff00ff"]},"legend":null},
    "strokeDash":{"field":"s","type":"nominal","scale":{"domain":["ks","kd","rs","rd","gs","gd","gx","bs","bd","cs","cd","ms","md"],"range":[[1,0],[7,4],[1,0],[7,4],[1,0],[7,4],[1,0],[1,0],[7,4],[1,0],[7,4],[1,0],[7,4]]},"legend":null}}},
  {"mark":{"type":"line","opacity":0,"clip":true},"encoding":{
    "x":{"field":"L","type":"quantitative","scale":{"domain":[0,3],"nice":false,"zero":false},"axis":{"orient":"top","values":[0,1,2,3],"labels":false,"title":null,"tickSize":-5}},
    "y":{"field":"v","type":"quantitative","scale":{"domain":[-10,-4],"nice":false,"zero":false},"axis":{"orient":"right","values":[-10,-9,-8,-7,-6,-5,-4],"labels":false,"title":null,"tickSize":-5}},
    "detail":{"field":"s"}}},
  {"data":{"values":[{}]},"mark":{"type":"text","text":"f","align":"left","baseline":"alphabetic","fontSize":18,"fontWeight":"bold","color":"#000000"},"encoding":{"x":{"datum":0.739,"type":"quantitative","scale":{"domain":[0,3],"nice":false,"zero":false},"axis":null},"y":{"datum":-5.14,"type":"quantitative","scale":{"domain":[-10,-4],"nice":false,"zero":false},"axis":null}}},
  {"data":{"values":[{}]},"mark":{"type":"text","text":"\u03b1","align":"left","baseline":"alphabetic","fontSize":13,"fontWeight":"bold","color":"#000000"},"encoding":{"x":{"datum":0.851,"type":"quantitative","scale":{"domain":[0,3],"nice":false,"zero":false},"axis":null},"y":{"datum":-5.39,"type":"quantitative","scale":{"domain":[-10,-4],"nice":false,"zero":false},"axis":null}}},
  {"data":{"values":[{}]},"mark":{"type":"text","text":"= 0.5","align":"left","baseline":"alphabetic","fontSize":18,"fontWeight":"bold","color":"#000000"},"encoding":{"x":{"datum":0.996,"type":"quantitative","scale":{"domain":[0,3],"nice":false,"zero":false},"axis":null},"y":{"datum":-5.14,"type":"quantitative","scale":{"domain":[-10,-4],"nice":false,"zero":false},"axis":null}}}
 ],
 "resolve":{"axis":{"x":"independent","y":"independent"}}},
{"width":268,"height":200,
 "data":{"name":"d"},"transform":[{"filter":"datum.p==22"}],
 "layer":[
  {"mark":{"type":"line","clip":true,"interpolate":"monotone","strokeWidth":1.7},
   "encoding":{
    "x":{"field":"L","type":"quantitative","scale":{"domain":[0,3],"nice":false,"zero":false},"axis":{"orient":"bottom","values":[0,1,2,3],"labels":false,"title":null,"tickSize":-5}},
    "y":{"field":"v","type":"quantitative","scale":{"domain":[-10,-4],"nice":false,"zero":false},"axis":{"orient":"left","values":[-10,-9,-8,-7,-6,-5,-4],"labels":false,"title":null,"tickSize":-5}},
    "color":{"field":"s","type":"nominal","scale":{"domain":["ks","kd","rs","rd","gs","gd","gx","bs","bd","cs","cd","ms","md"],"range":["#000000","#000000","#ff0000","#ff0000","#00ff00","#00ff00","#00ff00","#0000ff","#0000ff","#00ffff","#00ffff","#ff00ff","#ff00ff"]},"legend":null},
    "strokeDash":{"field":"s","type":"nominal","scale":{"domain":["ks","kd","rs","rd","gs","gd","gx","bs","bd","cs","cd","ms","md"],"range":[[1,0],[7,4],[1,0],[7,4],[1,0],[7,4],[1,0],[1,0],[7,4],[1,0],[7,4],[1,0],[7,4]]},"legend":null}}},
  {"mark":{"type":"line","opacity":0,"clip":true},"encoding":{
    "x":{"field":"L","type":"quantitative","scale":{"domain":[0,3],"nice":false,"zero":false},"axis":{"orient":"top","values":[0,1,2,3],"labels":false,"title":null,"tickSize":-5}},
    "y":{"field":"v","type":"quantitative","scale":{"domain":[-10,-4],"nice":false,"zero":false},"axis":{"orient":"right","values":[-10,-9,-8,-7,-6,-5,-4],"labels":false,"title":null,"tickSize":-5}},
    "detail":{"field":"s"}}}
 ],
 "resolve":{"axis":{"x":"independent","y":"independent"}}},
{"width":268,"height":200,
 "data":{"name":"d"},"transform":[{"filter":"datum.p==23"}],
 "layer":[
  {"mark":{"type":"line","clip":true,"interpolate":"monotone","strokeWidth":1.7},
   "encoding":{
    "x":{"field":"L","type":"quantitative","scale":{"domain":[0,3],"nice":false,"zero":false},"axis":{"orient":"bottom","values":[0,1,2,3],"labels":false,"title":null,"tickSize":-5}},
    "y":{"field":"v","type":"quantitative","scale":{"domain":[-10,-4],"nice":false,"zero":false},"axis":{"orient":"left","values":[-10,-9,-8,-7,-6,-5,-4],"labels":false,"title":null,"tickSize":-5}},
    "color":{"field":"s","type":"nominal","scale":{"domain":["ks","kd","rs","rd","gs","gd","gx","bs","bd","cs","cd","ms","md"],"range":["#000000","#000000","#ff0000","#ff0000","#00ff00","#00ff00","#00ff00","#0000ff","#0000ff","#00ffff","#00ffff","#ff00ff","#ff00ff"]},"legend":null},
    "strokeDash":{"field":"s","type":"nominal","scale":{"domain":["ks","kd","rs","rd","gs","gd","gx","bs","bd","cs","cd","ms","md"],"range":[[1,0],[7,4],[1,0],[7,4],[1,0],[7,4],[1,0],[1,0],[7,4],[1,0],[7,4],[1,0],[7,4]]},"legend":null}}},
  {"mark":{"type":"line","opacity":0,"clip":true},"encoding":{
    "x":{"field":"L","type":"quantitative","scale":{"domain":[0,3],"nice":false,"zero":false},"axis":{"orient":"top","values":[0,1,2,3],"labels":false,"title":null,"tickSize":-5}},
    "y":{"field":"v","type":"quantitative","scale":{"domain":[-10,-4],"nice":false,"zero":false},"axis":{"orient":"right","values":[-10,-9,-8,-7,-6,-5,-4],"labels":false,"title":null,"tickSize":-5}},
    "detail":{"field":"s"}}}
 ],
 "resolve":{"axis":{"x":"independent","y":"independent"}}},
{"width":268,"height":200,
 "data":{"name":"d"},"transform":[{"filter":"datum.p==31"}],
 "layer":[
  {"mark":{"type":"line","clip":true,"interpolate":"monotone","strokeWidth":1.7},
   "encoding":{
    "x":{"field":"L","type":"quantitative","scale":{"domain":[0,3],"nice":false,"zero":false},"axis":{"orient":"bottom","values":[0,1,2,3],"labelExpr":"datum.label","labelPadding":19,"title":"L (r.l.u.)","titlePadding":9,"tickSize":-5}},
    "y":{"field":"v","type":"quantitative","scale":{"domain":[-10,-4],"nice":false,"zero":false},"axis":{"orient":"left","values":[-10,-9.699,-9.523,-9.398,-9.301,-9.222,-9.155,-9.097,-9.046,-9,-8.699,-8.523,-8.398,-8.301,-8.222,-8.155,-8.097,-8.046,-8,-7.699,-7.523,-7.398,-7.301,-7.222,-7.155,-7.097,-7.046,-7,-6.699,-6.523,-6.398,-6.301,-6.222,-6.155,-6.097,-6.046,-6,-5.699,-5.523,-5.398,-5.301,-5.222,-5.155,-5.097,-5.046,-5,-4.699,-4.523,-4.398,-4.301,-4.222,-4.155,-4.097,-4.046,-4],"labelExpr":"datum.value==-4?'10\u207B\u2074':datum.value==-6?'10\u207B\u2076':datum.value==-8?'10\u207B\u2078':datum.value==-10?'10\u207B\u00B9\u2070':''","tickSize":{"condition":{"test":"datum.value % 1 == 0","value":-5},"value":-2.5},"labelPadding":14,"minExtent":46,"maxExtent":46,"title":"Reflectivity","titlePadding":10}},
    "color":{"field":"s","type":"nominal","scale":{"domain":["ks","kd","rs","rd","gs","gd","gx","bs","bd","cs","cd","ms","md"],"range":["#000000","#000000","#ff0000","#ff0000","#00ff00","#00ff00","#00ff00","#0000ff","#0000ff","#00ffff","#00ffff","#ff00ff","#ff00ff"]},"legend":null},
    "strokeDash":{"field":"s","type":"nominal","scale":{"domain":["ks","kd","rs","rd","gs","gd","gx","bs","bd","cs","cd","ms","md"],"range":[[1,0],[7,4],[1,0],[7,4],[1,0],[7,4],[1,0],[1,0],[7,4],[1,0],[7,4],[1,0],[7,4]]},"legend":null}}},
  {"mark":{"type":"line","opacity":0,"clip":true},"encoding":{
    "x":{"field":"L","type":"quantitative","scale":{"domain":[0,3],"nice":false,"zero":false},"axis":{"orient":"top","values":[0,1,2,3],"labels":false,"title":null,"tickSize":-5}},
    "y":{"field":"v","type":"quantitative","scale":{"domain":[-10,-4],"nice":false,"zero":false},"axis":{"orient":"right","values":[-10,-9,-8,-7,-6,-5,-4],"labels":false,"title":null,"tickSize":-5}},
    "detail":{"field":"s"}}},
  {"data":{"values":[{}]},"mark":{"type":"text","text":"f","align":"left","baseline":"alphabetic","fontSize":18,"fontWeight":"bold","color":"#000000"},"encoding":{"x":{"datum":0.739,"type":"quantitative","scale":{"domain":[0,3],"nice":false,"zero":false},"axis":null},"y":{"datum":-5.14,"type":"quantitative","scale":{"domain":[-10,-4],"nice":false,"zero":false},"axis":null}}},
  {"data":{"values":[{}]},"mark":{"type":"text","text":"\u03b1","align":"left","baseline":"alphabetic","fontSize":13,"fontWeight":"bold","color":"#000000"},"encoding":{"x":{"datum":0.851,"type":"quantitative","scale":{"domain":[0,3],"nice":false,"zero":false},"axis":null},"y":{"datum":-5.39,"type":"quantitative","scale":{"domain":[-10,-4],"nice":false,"zero":false},"axis":null}}},
  {"data":{"values":[{}]},"mark":{"type":"text","text":"= 0.8","align":"left","baseline":"alphabetic","fontSize":18,"fontWeight":"bold","color":"#000000"},"encoding":{"x":{"datum":0.996,"type":"quantitative","scale":{"domain":[0,3],"nice":false,"zero":false},"axis":null},"y":{"datum":-5.14,"type":"quantitative","scale":{"domain":[-10,-4],"nice":false,"zero":false},"axis":null}}}
 ],
 "resolve":{"axis":{"x":"independent","y":"independent"}}},
{"width":268,"height":200,
 "data":{"name":"d"},"transform":[{"filter":"datum.p==32"}],
 "layer":[
  {"mark":{"type":"line","clip":true,"interpolate":"monotone","strokeWidth":1.7},
   "encoding":{
    "x":{"field":"L","type":"quantitative","scale":{"domain":[0,3],"nice":false,"zero":false},"axis":{"orient":"bottom","values":[0,1,2,3],"labelExpr":"datum.value==0?'':datum.label","labelPadding":19,"title":"L (r.l.u.)","titlePadding":9,"tickSize":-5}},
    "y":{"field":"v","type":"quantitative","scale":{"domain":[-10,-4],"nice":false,"zero":false},"axis":{"orient":"left","values":[-10,-9,-8,-7,-6,-5,-4],"labels":false,"title":null,"tickSize":-5}},
    "color":{"field":"s","type":"nominal","scale":{"domain":["ks","kd","rs","rd","gs","gd","gx","bs","bd","cs","cd","ms","md"],"range":["#000000","#000000","#ff0000","#ff0000","#00ff00","#00ff00","#00ff00","#0000ff","#0000ff","#00ffff","#00ffff","#ff00ff","#ff00ff"]},"legend":null},
    "strokeDash":{"field":"s","type":"nominal","scale":{"domain":["ks","kd","rs","rd","gs","gd","gx","bs","bd","cs","cd","ms","md"],"range":[[1,0],[7,4],[1,0],[7,4],[1,0],[7,4],[1,0],[1,0],[7,4],[1,0],[7,4],[1,0],[7,4]]},"legend":null}}},
  {"mark":{"type":"line","opacity":0,"clip":true},"encoding":{
    "x":{"field":"L","type":"quantitative","scale":{"domain":[0,3],"nice":false,"zero":false},"axis":{"orient":"top","values":[0,1,2,3],"labels":false,"title":null,"tickSize":-5}},
    "y":{"field":"v","type":"quantitative","scale":{"domain":[-10,-4],"nice":false,"zero":false},"axis":{"orient":"right","values":[-10,-9,-8,-7,-6,-5,-4],"labels":false,"title":null,"tickSize":-5}},
    "detail":{"field":"s"}}}
 ],
 "resolve":{"axis":{"x":"independent","y":"independent"}}},
{"width":268,"height":200,
 "data":{"name":"d"},"transform":[{"filter":"datum.p==33"}],
 "layer":[
  {"mark":{"type":"line","clip":true,"interpolate":"monotone","strokeWidth":1.7},
   "encoding":{
    "x":{"field":"L","type":"quantitative","scale":{"domain":[0,3],"nice":false,"zero":false},"axis":{"orient":"bottom","values":[0,1,2,3],"labelExpr":"datum.value==0?'':datum.label","labelPadding":19,"title":"L (r.l.u.)","titlePadding":9,"tickSize":-5}},
    "y":{"field":"v","type":"quantitative","scale":{"domain":[-10,-4],"nice":false,"zero":false},"axis":{"orient":"left","values":[-10,-9,-8,-7,-6,-5,-4],"labels":false,"title":null,"tickSize":-5}},
    "color":{"field":"s","type":"nominal","scale":{"domain":["ks","kd","rs","rd","gs","gd","gx","bs","bd","cs","cd","ms","md"],"range":["#000000","#000000","#ff0000","#ff0000","#00ff00","#00ff00","#00ff00","#0000ff","#0000ff","#00ffff","#00ffff","#ff00ff","#ff00ff"]},"legend":null},
    "strokeDash":{"field":"s","type":"nominal","scale":{"domain":["ks","kd","rs","rd","gs","gd","gx","bs","bd","cs","cd","ms","md"],"range":[[1,0],[7,4],[1,0],[7,4],[1,0],[7,4],[1,0],[1,0],[7,4],[1,0],[7,4],[1,0],[7,4]]},"legend":null}}},
  {"mark":{"type":"line","opacity":0,"clip":true},"encoding":{
    "x":{"field":"L","type":"quantitative","scale":{"domain":[0,3],"nice":false,"zero":false},"axis":{"orient":"top","values":[0,1,2,3],"labels":false,"title":null,"tickSize":-5}},
    "y":{"field":"v","type":"quantitative","scale":{"domain":[-10,-4],"nice":false,"zero":false},"axis":{"orient":"right","values":[-10,-9,-8,-7,-6,-5,-4],"labels":false,"title":null,"tickSize":-5}},
    "detail":{"field":"s"}}}
 ],
 "resolve":{"axis":{"x":"independent","y":"independent"}}}
]
}
